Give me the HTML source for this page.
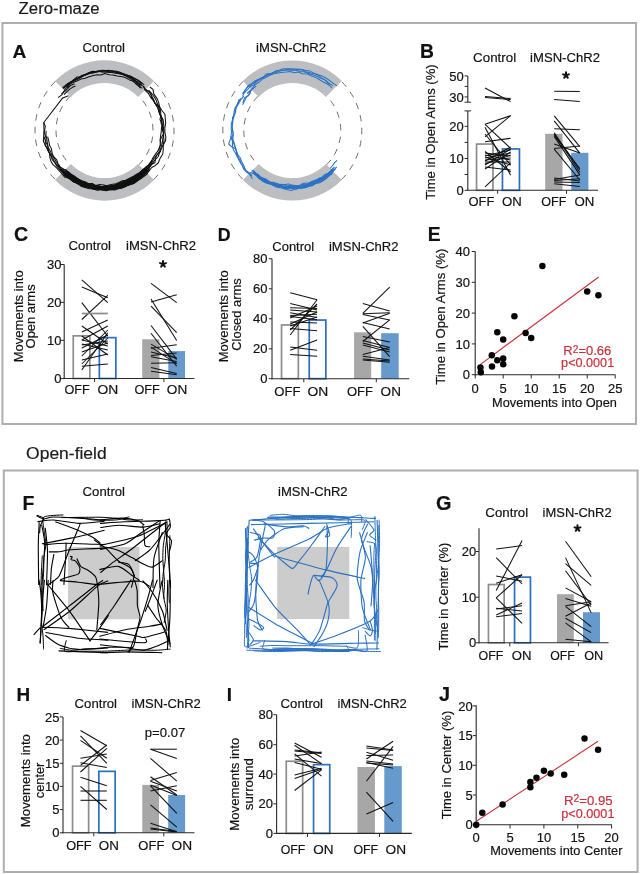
<!DOCTYPE html>
<html><head><meta charset="utf-8"><title>Zero-maze and Open-field figure</title>
<style>
html,body{margin:0;padding:0;background:#fff;}
body{width:640px;height:874px;overflow:hidden;}
svg{display:block;will-change:transform;}
text{font-family:"Liberation Sans", sans-serif;stroke:currentColor;stroke-width:0.18px;}
</style></head>
<body>
<svg width="640" height="874" viewBox="0 0 640 874">
<rect x="0" y="0" width="640" height="874" fill="#fff"/>
<rect x="2.40" y="23.00" width="633.60" height="401.00" fill="none" stroke="#adaeb0" stroke-width="2"/>
<rect x="3.80" y="470.50" width="633.80" height="401.50" fill="none" stroke="#adaeb0" stroke-width="2"/>
<text id="t_zm" x="18.63" y="14.19" font-size="15.58" fill="#1a1a1a" color="#1a1a1a" textLength="81.02" lengthAdjust="spacingAndGlyphs">Zero-maze</text>
<text id="t_of" x="26.09" y="459.27" font-size="16.90" fill="#1a1a1a" color="#1a1a1a" textLength="80.62" lengthAdjust="spacingAndGlyphs">Open-field</text>
<text id="LA" x="12.47" y="58.05" font-size="19.21" font-weight="bold" fill="#111" color="#111">A</text>
<text id="LB" x="420.04" y="57.55" font-size="19.30" font-weight="bold" fill="#111" color="#111">B</text>
<text id="LC" x="13.88" y="240.93" font-size="19.69" font-weight="bold" fill="#111" color="#111">C</text>
<text id="LD" x="217.71" y="241.00" font-size="17.77" font-weight="bold" fill="#111" color="#111">D</text>
<text id="LE" x="427.71" y="240.55" font-size="19.29" font-weight="bold" fill="#111" color="#111">E</text>
<text id="LF" x="22.49" y="509.70" font-size="19.44" font-weight="bold" fill="#111" color="#111">F</text>
<text id="LG" x="436.01" y="510.46" font-size="19.89" font-weight="bold" fill="#111" color="#111">G</text>
<text id="LH" x="16.58" y="701.25" font-size="18.93" font-weight="bold" fill="#111" color="#111">H</text>
<text id="LI" x="226.83" y="701.25" font-size="18.92" font-weight="bold" fill="#111" color="#111">I</text>
<text id="LJ" x="439.09" y="700.54" font-size="19.87" font-weight="bold" fill="#111" color="#111">J</text>
<path d="M154.00,81.00 A70,70 0 0 0 55.00,81.00 L70.91,96.91 A47.5,47.5 0 0 1 138.09,96.91 Z" fill="#bdbec1"/>
<path d="M55.00,180.00 A70,70 0 0 0 154.00,180.00 L138.09,164.09 A47.5,47.5 0 0 1 70.91,164.09 Z" fill="#bdbec1"/>
<path d="M55.36,81.36 A69.5,69.5 0 0 0 55.36,179.64" fill="none" stroke="#6d6e70" stroke-width="1" stroke-dasharray="6.5 6.2"/>
<path d="M153.64,179.64 A69.5,69.5 0 0 0 153.64,81.36" fill="none" stroke="#6d6e70" stroke-width="1" stroke-dasharray="6.5 6.2"/>
<path d="M70.21,96.21 A48.5,48.5 0 0 0 70.21,164.79" fill="none" stroke="#6d6e70" stroke-width="1" stroke-dasharray="6.5 6.2"/>
<path d="M138.79,164.79 A48.5,48.5 0 0 0 138.79,96.21" fill="none" stroke="#6d6e70" stroke-width="1" stroke-dasharray="6.5 6.2"/>
<path d="M140.7,84.7 L137.0,82.6 L134.4,79.7 L130.8,78.0 L125.6,75.3 L122.0,74.2 L118.7,72.7 L114.0,71.6 L109.8,72.0 L105.7,71.0 L101.4,71.1 L97.4,71.8 L92.9,71.3 L88.9,72.8 L84.9,74.4 L81.3,76.7 L77.0,76.9 L73.1,80.4 L70.1,82.2 L66.2,84.6 L63.5,88.7" fill="none" stroke="#111" stroke-width="1.05" stroke-linejoin="round"/>
<path d="M66.6,87.7 L69.0,84.8 L73.0,82.6 L77.0,81.0 L81.0,79.0 L85.3,78.2 L88.3,77.1 L92.5,75.7 L97.1,74.7 L101.2,75.0 L104.6,73.5 L109.4,74.7 L112.7,75.1 L117.3,76.1 L121.0,76.6 L124.7,77.3 L129.4,79.9 L132.8,80.9 L135.9,83.7 L138.7,86.1 L142.5,88.4" fill="none" stroke="#111" stroke-width="1.05" stroke-linejoin="round"/>
<path d="M142.2,85.4 L138.5,82.0 L134.9,80.5 L132.3,77.5 L128.1,77.0 L123.7,74.6 L119.8,72.7 L115.8,72.9 L112.6,71.0 L108.4,70.2 L103.2,70.9 L98.6,70.7 L94.7,72.0 L91.1,71.8 L87.4,74.2 L83.1,75.7 L80.2,77.9 L76.6,79.8 L72.7,81.9 L69.1,83.0 L65.4,86.0 L63.0,88.4" fill="none" stroke="#111" stroke-width="1.05" stroke-linejoin="round"/>
<path d="M62.6,87.8 L66.5,85.0 L70.2,83.2 L73.7,79.5 L77.5,78.7 L80.9,76.3 L84.9,74.9 L89.3,73.5 L92.6,72.6 L97.3,71.5 L101.2,71.3 L105.2,70.7 L109.9,72.4 L114.3,71.6 L117.7,72.8 L122.6,73.4 L126.2,75.1 L130.4,76.1 L133.3,78.0 L137.9,79.9 L141.2,82.4 L144.2,84.8" fill="none" stroke="#111" stroke-width="1.05" stroke-linejoin="round"/>
<path d="M142.3,83.6 L138.3,80.6 L135.0,78.7 L131.6,76.8 L127.0,75.1 L123.0,73.6 L118.6,71.8 L115.2,71.0 L110.1,70.9 L106.1,70.5 L102.1,70.3 L97.5,71.9 L93.4,72.3 L89.1,72.6 L85.2,75.0 L81.8,76.7 L77.7,78.1 L73.8,80.4 L70.0,82.7 L67.2,85.3" fill="none" stroke="#111" stroke-width="1.05" stroke-linejoin="round"/>
<path d="M64.1,87.5 L68.0,85.0 L70.5,82.4 L74.5,80.1 L78.3,78.1 L82.2,75.3 L85.6,74.8 L89.4,73.5 L93.6,73.1 L97.7,71.0 L101.5,72.0 L105.7,72.3 L110.3,72.1 L114.1,73.1 L117.9,73.5 L122.5,74.5 L126.0,75.9 L129.6,78.3 L133.3,80.3 L136.2,82.0 L140.3,84.9 L144.2,86.8" fill="none" stroke="#111" stroke-width="1.05" stroke-linejoin="round"/>
<path d="M140.8,88.0 L138.8,84.0 L135.8,83.4 L132.3,80.7" fill="none" stroke="#111" stroke-width="1.05" stroke-linejoin="round"/>
<path d="M135.8,84.2 L137.5,84.9 L139.6,86.9 L140.3,88.3" fill="none" stroke="#111" stroke-width="1.05" stroke-linejoin="round"/>
<path d="M69.6,85.7 L65.5,88.4 L63.9,91.2 L62.0,94.7 L58.1,97.7" fill="none" stroke="#111" stroke-width="1.05" stroke-linejoin="round"/>
<path d="M61.4,94.0 L65.3,90.8 L67.8,88.3 L70.6,85.4 L74.6,83.7" fill="none" stroke="#111" stroke-width="1.05" stroke-linejoin="round"/>
<path d="M75.5,85.9 L72.4,87.3 L69.8,89.2 L67.0,91.7 L64.1,94.5" fill="none" stroke="#111" stroke-width="1.05" stroke-linejoin="round"/>
<path d="M143.4,86.0 L145.4,90.7 L148.3,93.3 L150.7,97.6 L153.2,100.5 L155.5,104.1 L157.9,108.1 L158.9,111.8 L160.8,115.4 L160.0,119.7 L162.2,123.8 L161.5,128.1 L161.2,132.0 L160.5,136.3 L160.2,140.1 L160.2,145.2 L159.1,149.1 L156.6,152.6 L154.3,155.9 L152.5,158.6 L150.8,163.8 L147.6,166.0 L145.1,170.0" fill="none" stroke="#111" stroke-width="1.05" stroke-linejoin="round"/>
<path d="M144.8,171.6 L147.2,168.8 L150.2,165.7 L152.0,162.2 L153.7,158.9 L156.9,155.2 L159.2,151.7 L159.0,148.4 L161.1,143.6 L160.1,139.9 L162.6,135.6 L164.1,131.8 L163.1,126.9 L161.0,123.2 L161.5,120.1 L161.1,115.8 L159.1,112.4 L157.9,107.7 L156.0,104.9 L154.0,100.8 L151.5,97.5 L150.9,93.6 L147.3,90.8 L144.1,88.6" fill="none" stroke="#111" stroke-width="1.05" stroke-linejoin="round"/>
<path d="M148.5,90.2 L151.4,93.1 L153.6,96.0 L156.0,99.8 L157.4,103.9 L159.9,107.9 L160.7,111.8 L160.8,116.5 L163.0,119.5 L162.8,123.6 L162.3,128.8 L163.6,132.4 L163.5,136.0 L164.0,140.5 L163.4,144.4 L161.3,148.7 L159.5,152.5 L158.3,156.5 L155.0,159.8 L152.7,163.3 L149.2,165.6 L149.1,170.1 L144.3,172.3 L141.5,174.7" fill="none" stroke="#111" stroke-width="1.05" stroke-linejoin="round"/>
<path d="M145.2,171.3 L147.5,168.4 L151.4,164.6 L154.9,162.7 L155.6,158.7 L156.4,155.4 L160.5,151.6 L160.8,147.9 L162.3,143.4 L162.7,139.1 L163.7,134.9 L162.6,130.2 L163.9,127.2 L163.5,122.2 L162.0,117.8 L159.7,114.6 L159.5,110.5 L158.3,105.7 L154.9,103.3 L153.4,98.9 L151.4,95.5 L148.8,91.3 L145.8,89.7 L143.2,86.3" fill="none" stroke="#111" stroke-width="1.05" stroke-linejoin="round"/>
<path d="M149.8,87.0 L153.0,89.4 L153.8,93.9 L157.4,99.1 L158.5,102.1 L159.8,107.4 L162.0,110.5 L165.0,114.5 L165.2,118.3 L165.7,123.1 L164.9,127.5 L164.8,131.8 L165.8,136.9 L165.5,140.8 L163.3,145.0 L163.2,150.2 L162.8,153.9 L160.0,158.6 L158.2,163.0 L155.0,165.7 L151.7,167.5 L148.2,172.1 L146.1,174.8" fill="none" stroke="#111" stroke-width="1.05" stroke-linejoin="round"/>
<path d="M148.0,171.2 L144.3,174.3 L141.2,176.9 L138.1,180.0 L135.2,182.4 L130.9,184.6 L126.2,185.5 L122.1,187.7 L118.7,188.3 L114.5,188.5 L110.7,188.5 L106.3,190.5 L101.3,189.4 L97.4,190.2 L93.9,189.2 L89.8,187.8 L85.0,187.4 L81.7,185.4 L77.8,184.1 L74.8,182.1 L71.0,179.3 L67.6,176.2 L64.4,173.7 L61.0,170.4" fill="none" stroke="#111" stroke-width="1.05" stroke-linejoin="round"/>
<path d="M63.4,174.6 L65.9,176.7 L70.7,179.6 L72.8,181.5 L77.7,183.1 L81.4,185.9 L85.4,186.1 L89.3,187.6 L93.5,188.3 L97.4,189.4 L102.0,189.8 L105.9,190.7 L109.8,190.1 L114.2,189.6 L118.4,187.7 L121.4,188.0 L126.0,186.1 L129.8,184.4 L134.1,183.4 L137.4,180.8 L141.1,178.2 L144.4,176.1 L147.9,173.3" fill="none" stroke="#111" stroke-width="1.05" stroke-linejoin="round"/>
<path d="M147.4,167.9 L145.5,171.7 L142.8,174.3 L139.2,177.4 L136.8,179.5 L132.3,180.9 L128.0,183.5 L124.4,184.5 L121.1,186.6 L117.4,188.0 L112.3,188.6 L108.7,188.6 L104.1,189.7 L100.0,189.1 L96.1,189.2 L92.0,186.4 L87.9,186.7 L83.9,185.5 L79.9,184.0 L76.1,182.9 L72.6,180.3 L68.3,177.4 L65.5,175.0 L62.7,171.7 L59.6,169.2" fill="none" stroke="#111" stroke-width="1.05" stroke-linejoin="round"/>
<path d="M65.4,173.3 L69.0,175.0 L72.5,177.8 L75.6,180.3 L79.2,182.3 L82.4,184.6 L87.2,185.7 L91.0,186.6 L94.3,187.1 L98.6,187.3 L102.8,187.9 L106.9,187.3 L110.6,187.5 L114.3,186.5 L119.7,187.1 L123.3,185.6 L127.2,184.0 L131.1,181.7 L134.1,181.3 L137.9,178.4 L140.2,176.1 L143.2,173.2" fill="none" stroke="#111" stroke-width="1.05" stroke-linejoin="round"/>
<path d="M148.9,169.4 L146.0,172.5 L142.2,175.2 L139.6,179.1 L135.6,180.2 L132.9,183.2 L128.6,185.1 L124.7,185.2 L120.7,187.2 L116.0,188.2 L111.8,188.5 L106.8,188.2 L102.7,188.4 L99.4,188.0 L94.6,187.0 L90.8,186.5 L87.1,184.9 L82.9,183.9 L78.9,182.3 L75.5,179.7 L72.1,177.5 L68.2,175.3 L64.8,173.3" fill="none" stroke="#111" stroke-width="1.05" stroke-linejoin="round"/>
<path d="M63.9,173.1 L67.1,175.3 L70.2,179.4 L74.1,180.5 L78.7,181.6 L81.8,183.5 L86.4,184.5 L89.8,186.4 L94.0,186.6 L97.4,187.8 L102.4,188.6 L105.3,188.0 L110.0,187.4 L114.7,188.3 L118.0,187.3 L122.2,185.9 L126.3,185.1 L130.3,182.8 L134.0,181.9 L137.8,179.2 L141.0,177.3 L145.1,174.0 L146.9,171.9" fill="none" stroke="#111" stroke-width="1.05" stroke-linejoin="round"/>
<path d="M144.9,168.4 L142.4,171.4 L139.4,174.1 L136.8,176.5 L132.0,179.0 L128.8,180.4 L125.5,182.5 L121.7,183.6 L117.6,184.3 L114.4,185.4 L109.9,186.1 L105.1,185.7 L102.2,186.7 L98.6,185.9 L94.1,186.5 L90.8,185.3 L86.5,183.4 L82.7,182.9 L79.4,181.1 L75.8,179.0 L72.8,175.8 L69.1,174.7 L66.3,170.0 L63.1,169.2" fill="none" stroke="#111" stroke-width="1.05" stroke-linejoin="round"/>
<path d="M65.2,172.3 L68.8,174.9 L71.5,176.8 L76.1,179.7 L79.4,181.0 L82.7,184.0 L86.3,184.9 L89.0,186.8 L94.0,187.1 L97.8,187.3 L102.0,188.5 L106.0,188.5 L110.8,187.0 L115.1,187.4 L118.4,186.0 L122.7,185.8 L126.4,184.5 L129.1,183.2 L133.3,181.9 L137.3,178.2 L140.4,176.6 L142.9,173.7 L146.5,170.5" fill="none" stroke="#111" stroke-width="1.05" stroke-linejoin="round"/>
<path d="M141.9,171.0 L139.4,172.8 L136.1,174.4 L132.7,177.1 L129.2,178.6 L125.5,180.3 L122.3,180.8 L118.9,182.5 L115.9,183.8 L111.2,184.6 L106.5,185.8 L103.9,184.9 L99.5,184.5 L95.5,185.7 L92.4,183.5 L88.4,183.9 L85.6,181.9 L81.3,180.5 L77.7,178.6 L74.9,176.5 L72.3,174.9 L68.2,171.9 L65.5,169.6" fill="none" stroke="#111" stroke-width="1.05" stroke-linejoin="round"/>
<path d="M66.1,170.5 L69.2,173.9 L72.0,176.6 L75.4,178.3 L78.6,181.6 L82.1,182.7 L86.2,183.1 L90.0,184.4 L93.7,186.4 L98.1,187.2 L101.9,187.2 L105.2,186.8 L109.9,186.9 L113.9,185.7 L117.4,185.1 L120.9,184.4 L125.0,183.1 L128.7,180.4 L131.4,179.4 L135.3,177.7 L138.6,174.7 L141.7,171.9 L144.0,168.8 L146.3,166.7" fill="none" stroke="#111" stroke-width="1.05" stroke-linejoin="round"/>
<path d="M144.3,170.5 L140.8,173.4 L138.0,175.1 L133.7,177.2 L130.3,179.5 L127.6,182.0 L123.8,182.3 L119.3,183.6 L116.1,185.0 L112.1,186.6 L108.7,187.2 L105.1,186.8 L100.2,186.2 L96.1,185.2 L91.8,185.2 L88.4,183.9 L83.9,183.6 L81.0,180.8 L78.1,179.7 L73.2,177.3 L70.1,175.7 L67.0,173.3 L64.3,170.9" fill="none" stroke="#111" stroke-width="1.05" stroke-linejoin="round"/>
<path d="M68.0,172.1 L71.0,175.2 L73.5,177.2 L77.1,179.1 L81.0,181.3 L84.9,183.6 L89.6,184.4 L92.6,184.8 L96.4,186.2 L100.3,186.8 L104.6,186.4 L108.6,186.3 L112.2,185.5 L116.0,185.4 L119.7,183.7 L123.9,183.1 L127.1,180.5 L130.9,179.7 L134.3,176.7 L138.1,175.8 L141.0,173.7 L143.5,170.8" fill="none" stroke="#111" stroke-width="1.05" stroke-linejoin="round"/>
<path d="M147.4,170.6 L144.3,173.2 L141.1,175.8 L137.6,178.8 L134.1,181.5 L129.7,182.0 L127.3,184.1 L122.4,185.6 L119.1,187.8 L115.3,187.8 L109.9,188.5 L105.7,188.5 L101.9,188.8 L98.0,189.0 L93.9,187.8 L90.0,186.3 L86.0,185.6 L81.0,184.7 L77.7,181.6 L73.8,180.4 L70.4,178.6 L66.7,175.9 L62.9,173.4" fill="none" stroke="#111" stroke-width="1.05" stroke-linejoin="round"/>
<path d="M63.9,173.1 L66.5,177.5 L70.1,178.2 L73.7,182.1 L77.9,183.3 L81.0,186.2 L85.2,187.6 L89.4,188.8 L94.0,189.0 L98.1,189.8 L102.3,189.3 L105.8,189.6 L110.4,189.4 L114.9,189.9 L119.2,188.6 L122.5,187.8 L126.7,185.9 L130.3,183.8 L134.2,182.7 L138.0,180.0 L141.9,177.7 L145.1,174.8" fill="none" stroke="#111" stroke-width="1.05" stroke-linejoin="round"/>
<path d="M143.2,171.1 L140.6,173.4 L138.4,175.9 L134.8,178.7 L131.4,181.3 L128.4,183.0 L124.0,184.2 L120.7,186.2 L116.2,186.9 L112.3,187.5 L108.3,187.6 L104.8,188.0 L100.2,187.3 L95.4,188.0 L92.3,187.5 L88.3,186.9 L85.3,184.5 L81.1,182.3 L76.6,181.2 L74.0,179.7 L70.2,177.6 L66.9,174.0" fill="none" stroke="#111" stroke-width="1.05" stroke-linejoin="round"/>
<path d="M65.3,171.8 L67.9,173.0 L71.6,177.1 L74.8,179.2 L78.1,180.6 L81.9,183.7 L85.4,185.6 L89.0,187.4 L93.6,186.7 L98.1,187.5 L101.7,188.6 L106.1,187.6 L110.2,187.9 L114.3,187.2 L118.2,184.7 L122.6,184.0 L126.2,183.0 L128.9,181.4 L133.4,179.5 L136.3,177.7 L140.3,175.5 L143.4,172.2 L146.0,169.3" fill="none" stroke="#111" stroke-width="1.05" stroke-linejoin="round"/>
<path d="M145.7,171.6 L143.3,174.4 L139.3,176.9 L136.2,178.9 L131.9,180.9 L128.7,184.5 L124.3,185.3 L120.6,186.1 L116.5,187.3 L112.2,187.9 L108.0,187.7 L103.5,188.0 L99.4,188.1 L95.0,187.3 L91.3,186.3 L86.9,184.9 L82.9,184.3 L79.2,182.2 L75.7,180.4 L71.6,178.6 L67.9,175.6 L65.9,173.2" fill="none" stroke="#111" stroke-width="1.05" stroke-linejoin="round"/>
<path d="M67.5,172.7 L70.8,175.1 L73.6,177.3 L78.1,178.7 L80.8,181.3 L84.5,182.5 L88.2,183.4 L92.4,183.9 L96.0,186.1 L98.6,186.4 L103.2,186.6 L107.2,186.6 L111.8,187.2 L115.8,187.0 L119.6,185.9 L123.9,184.6 L127.0,182.4 L131.1,181.1 L134.0,180.1 L138.4,177.2 L140.8,174.3 L144.1,172.0" fill="none" stroke="#111" stroke-width="1.05" stroke-linejoin="round"/>
<path d="M147.4,170.7 L144.7,173.5 L141.5,176.4 L138.0,178.1 L134.9,180.7 L130.1,181.8 L127.3,184.4 L123.7,186.1 L119.9,186.3 L115.7,188.0 L111.2,188.4 L108.2,188.3 L103.4,189.1 L98.7,188.7 L94.8,188.1 L91.2,187.6 L87.6,186.4 L83.0,185.0 L80.0,184.3 L76.0,182.2 L72.7,180.1 L69.1,177.9 L66.6,174.2 L62.9,171.1 L59.8,168.9" fill="none" stroke="#111" stroke-width="1.05" stroke-linejoin="round"/>
<path d="M68.4,171.5 L70.5,174.1 L74.6,176.5 L77.6,179.8 L81.0,181.7 L84.5,182.6 L88.3,183.9 L92.1,185.3 L96.1,185.4 L99.8,187.5 L104.4,186.3 L108.3,186.9 L112.2,185.5 L116.3,184.5 L120.1,182.6 L123.4,181.6 L127.5,180.4 L131.2,178.9 L134.2,177.5 L138.4,173.7 L141.8,173.1 L144.2,169.3" fill="none" stroke="#111" stroke-width="1.05" stroke-linejoin="round"/>
<path d="M147.4,165.6 L144.9,168.5 L142.8,172.3 L139.6,173.9 L135.2,175.8 L132.0,177.0 L128.5,179.2 L125.2,181.1 L121.5,183.1 L118.2,184.7 L113.8,185.4 L110.1,186.2 L106.2,187.4 L103.1,187.4 L98.0,187.5 L94.4,186.3 L90.4,186.9 L85.7,184.9 L81.9,182.8 L78.0,182.6 L73.9,180.4 L71.6,177.8 L68.2,175.9" fill="none" stroke="#111" stroke-width="1.05" stroke-linejoin="round"/>
<path d="M67.0,173.2 L69.1,175.7 L72.8,178.9 L76.6,180.4 L80.5,182.0 L83.4,184.0 L87.5,184.9 L91.9,186.9 L95.5,186.9 L99.5,187.0 L103.5,187.8 L107.4,187.0 L112.2,187.5 L116.2,186.8 L120.5,186.4 L125.1,185.4 L128.8,183.9 L131.7,180.9 L134.6,177.7 L138.0,176.1 L141.3,173.1 L144.3,170.6 L146.0,167.6" fill="none" stroke="#111" stroke-width="1.05" stroke-linejoin="round"/>
<path d="M145.9,169.7 L143.1,173.5 L139.7,175.5 L136.8,178.4 L132.7,181.0 L129.1,182.0 L125.1,182.4 L121.9,185.5 L118.5,185.4 L114.2,186.6 L110.4,187.7 L106.1,187.7 L101.8,188.0 L97.5,186.5 L93.4,186.6 L89.6,186.8 L85.2,186.2 L82.3,184.0 L78.3,181.3 L74.8,179.8 L71.7,176.8 L68.0,174.8 L65.5,171.7" fill="none" stroke="#111" stroke-width="1.05" stroke-linejoin="round"/>
<path d="M61.2,170.3 L63.9,173.6 L67.8,176.0 L71.0,178.5 L74.5,180.7 L77.3,182.6 L81.4,184.8 L85.7,186.5 L89.6,186.9 L93.2,188.8 L97.2,189.1 L101.6,189.8 L106.1,189.9 L109.8,188.4 L113.4,189.0 L118.2,187.9 L122.3,187.1 L126.0,186.4 L129.7,183.0 L133.2,181.5 L136.9,179.3 L140.8,176.6 L144.0,174.0" fill="none" stroke="#111" stroke-width="1.05" stroke-linejoin="round"/>
<path d="M146.7,169.2 L144.6,172.9 L141.0,175.0 L137.7,177.6 L134.1,179.2 L129.7,181.7 L126.9,183.0 L123.4,184.2 L119.4,185.4 L115.0,186.5 L111.9,186.9 L107.8,187.1 L102.8,188.4 L99.6,187.9 L95.6,186.9 L91.4,185.0 L87.0,184.6 L83.7,183.5 L80.7,181.5 L77.2,180.6 L73.6,177.2 L69.9,176.0 L67.3,173.7" fill="none" stroke="#111" stroke-width="1.05" stroke-linejoin="round"/>
<path d="M62.8,171.0 L65.3,174.3 L68.9,176.7 L72.8,178.7 L76.3,181.5 L80.4,183.4 L84.8,184.6 L88.8,186.6 L91.7,187.7 L96.0,187.3 L99.9,188.5 L104.3,189.4 L108.6,188.4 L112.5,188.6 L117.1,187.5 L120.3,186.3 L124.2,184.9 L129.4,184.3 L131.8,182.0 L136.0,179.5 L140.1,176.9 L143.0,174.3 L144.9,171.3" fill="none" stroke="#111" stroke-width="1.05" stroke-linejoin="round"/>
<path d="M66.6,175.8 L62.9,172.8 L60.5,170.4 L57.2,166.6 L54.9,163.0 L52.1,159.4 L50.8,155.0 L48.6,151.2 L47.9,146.5 L45.9,142.1 L45.9,138.8" fill="none" stroke="#111" stroke-width="1.05" stroke-linejoin="round"/>
<path d="M44.2,136.6 L45.4,141.0 L45.1,145.3 L47.4,148.2 L49.4,153.0 L49.8,156.8 L50.9,161.3 L53.0,164.6 L56.6,167.9 L59.6,171.1 L62.4,174.3 L65.4,178.0" fill="none" stroke="#111" stroke-width="1.05" stroke-linejoin="round"/>
<path d="M68.8,177.5 L66.2,175.0 L64.0,170.9 L61.1,168.7 L58.1,164.9 L56.7,162.5 L54.4,158.6 L51.8,154.9 L50.5,151.6 L48.1,147.2 L47.3,142.6 L46.8,138.8 L45.9,134.9 L46.1,130.8" fill="none" stroke="#111" stroke-width="1.05" stroke-linejoin="round"/>
<path d="M47.6,136.7 L48.6,140.2 L49.6,145.6 L51.3,148.4 L52.3,153.7 L53.5,156.3 L56.8,159.9 L57.8,163.2 L60.2,166.9 L64.5,169.8 L66.5,173.0 L68.8,176.4 L72.3,177.8" fill="none" stroke="#111" stroke-width="1.05" stroke-linejoin="round"/>
<path d="M128.2,181.3 L131.4,178.7 L135.0,176.2 L138.9,174.3 L141.9,170.3 L144.8,168.1 L148.2,165.6" fill="none" stroke="#111" stroke-width="1.05" stroke-linejoin="round"/>
<path d="M150.7,161.8 L147.8,166.0 L145.3,168.5 L141.3,171.2 L138.8,174.1 L134.6,176.0" fill="none" stroke="#111" stroke-width="1.05" stroke-linejoin="round"/>
<path d="M130.2,179.0 L134.3,177.1 L137.6,175.0 L141.8,171.9 L143.5,169.4 L147.7,166.8 L149.7,163.7 L151.8,159.9" fill="none" stroke="#111" stroke-width="1.05" stroke-linejoin="round"/>
<path d="M152.0,162.5 L151.2,165.3 L148.0,169.4 L144.9,172.3 L142.1,175.6 L139.1,177.6 L135.8,180.1" fill="none" stroke="#111" stroke-width="1.05" stroke-linejoin="round"/>
<path d="M68.5,95.8 L62.7,97.9 L43.8,122.5 L44.0,130.5 L43.4,141.3 L48.1,151.0 L56.2,164.3 L64.2,172.2" fill="none" stroke="#111" stroke-width="1.05" stroke-linejoin="round"/>
<path d="M43.8,122.5 L45.3,126.4 L44.2,132.6 L46.3,138.7" fill="none" stroke="#111" stroke-width="1.05" stroke-linejoin="round"/>
<path d="M341.80,81.00 A70,70 0 0 0 242.80,81.00 L258.71,96.91 A47.5,47.5 0 0 1 325.89,96.91 Z" fill="#bdbec1"/>
<path d="M242.80,180.00 A70,70 0 0 0 341.80,180.00 L325.89,164.09 A47.5,47.5 0 0 1 258.71,164.09 Z" fill="#bdbec1"/>
<path d="M243.16,81.36 A69.5,69.5 0 0 0 243.16,179.64" fill="none" stroke="#6d6e70" stroke-width="1" stroke-dasharray="6.5 6.2"/>
<path d="M341.44,179.64 A69.5,69.5 0 0 0 341.44,81.36" fill="none" stroke="#6d6e70" stroke-width="1" stroke-dasharray="6.5 6.2"/>
<path d="M258.01,96.21 A48.5,48.5 0 0 0 258.01,164.79" fill="none" stroke="#6d6e70" stroke-width="1" stroke-dasharray="6.5 6.2"/>
<path d="M326.59,164.79 A48.5,48.5 0 0 0 326.59,96.21" fill="none" stroke="#6d6e70" stroke-width="1" stroke-dasharray="6.5 6.2"/>
<path d="M337.2,85.9 L333.3,83.4 L329.5,80.5 L326.0,77.9 L321.9,76.1 L317.5,74.4 L313.4,73.0 L310.1,71.1 L305.1,70.3 L302.5,69.5 L296.8,69.0 L292.3,68.7 L288.6,68.8 L283.1,68.8 L279.8,70.2 L275.9,71.2 L271.1,73.5 L266.1,74.1 L263.7,77.1 L259.3,79.1 L255.4,80.7 L251.4,83.6 L248.0,85.7 L245.8,89.5 L242.9,93.6" fill="none" stroke="#2a72c5" stroke-width="1.05" stroke-linejoin="round"/>
<path d="M247.1,93.5 L249.7,91.0 L252.9,88.0 L254.8,84.7 L259.0,82.2 L262.4,79.1 L265.8,77.6 L268.8,75.9 L273.4,73.7 L277.6,73.1 L281.3,72.4 L285.9,72.0 L290.3,71.5 L294.3,72.8 L298.7,72.0 L302.2,73.7 L307.5,74.0 L311.1,75.7 L314.6,76.9 L318.8,79.2 L322.0,81.2 L326.0,83.3 L329.3,85.2 L332.1,88.1" fill="none" stroke="#2a72c5" stroke-width="1.05" stroke-linejoin="round"/>
<path d="M329.8,84.0 L326.9,82.0 L324.6,79.6 L320.3,78.1 L316.1,75.9 L312.1,74.6 L308.0,73.3 L303.9,71.7 L300.1,71.4 L294.8,70.1 L291.9,69.9 L287.2,70.0 L282.7,70.5 L278.9,71.2 L274.9,73.2 L270.4,74.2 L266.1,75.9 L262.8,77.1 L258.9,79.4 L254.4,82.3 L251.9,84.2 L247.4,87.3 L245.0,90.2 L242.6,93.9" fill="none" stroke="#2a72c5" stroke-width="1.05" stroke-linejoin="round"/>
<path d="M242.5,96.3 L244.4,92.8 L247.6,89.7 L250.0,86.8 L254.0,84.6 L256.3,81.7 L260.3,79.1 L264.8,76.6 L268.2,74.2 L273.1,73.0 L275.7,70.9 L279.3,70.2 L285.0,70.1 L289.4,69.4 L293.3,70.5 L297.2,69.5 L301.9,70.1 L305.9,71.7 L310.9,73.1 L315.0,73.8 L318.7,75.7 L321.9,78.4 L325.9,80.4 L329.1,83.6 L333.1,85.5" fill="none" stroke="#2a72c5" stroke-width="1.05" stroke-linejoin="round"/>
<path d="M256.2,85.8 L252.9,88.7 L250.0,91.3 L248.5,95.2 L244.3,98.2 L243.0,103.2" fill="none" stroke="#2a72c5" stroke-width="1.05" stroke-linejoin="round"/>
<path d="M242.6,104.8 L244.1,101.7 L246.5,97.1 L249.7,94.4 L251.0,90.3" fill="none" stroke="#2a72c5" stroke-width="1.05" stroke-linejoin="round"/>
<path d="M243.8,96.1 L240.5,100.2 L238.3,104.3 L236.0,108.1 L235.6,111.6 L234.2,115.9 L232.9,119.9 L232.0,124.6 L232.2,128.6 L233.1,133.6 L232.1,137.2 L233.2,141.9 L234.4,145.7 L236.0,149.9 L237.4,154.0 L240.1,157.7 L241.8,161.7 L243.8,165.8 L245.8,170.5 L249.3,172.8 L251.8,175.8" fill="none" stroke="#2a72c5" stroke-width="1.05" stroke-linejoin="round"/>
<path d="M252.0,175.6 L248.5,173.6 L245.9,170.7 L243.4,167.2 L241.1,163.5 L239.8,159.6 L237.0,156.3 L236.1,150.5 L235.6,147.9 L233.9,142.2 L232.8,139.1 L233.3,135.2 L232.6,130.0 L232.0,127.6 L232.8,122.2 L232.5,117.6 L234.7,113.9 L235.4,109.6 L236.5,106.0 L238.6,102.0 L240.6,98.2" fill="none" stroke="#2a72c5" stroke-width="1.05" stroke-linejoin="round"/>
<path d="M238.9,99.3 L237.5,104.3 L235.1,107.7 L234.2,111.4 L233.7,115.6 L232.5,119.8 L231.3,123.6 L231.2,129.2 L231.6,131.5 L230.9,137.0 L232.4,141.1 L232.5,146.5 L233.2,149.5 L235.8,153.7 L237.9,157.6 L239.5,161.5 L242.2,165.3 L243.7,169.2 L246.4,171.9 L250.0,174.7 L252.5,178.8" fill="none" stroke="#2a72c5" stroke-width="1.05" stroke-linejoin="round"/>
<path d="M252.7,170.1 L255.7,172.8 L258.4,175.0 L261.1,177.8 L266.0,179.1 L269.3,182.0 L272.8,182.2 L277.0,183.5 L280.7,185.0 L284.7,184.4 L288.7,183.9 L291.9,185.8 L296.6,186.3 L300.1,185.3 L304.1,184.2 L308.5,184.1 L311.6,181.6 L315.8,180.8 L319.1,178.1 L323.3,178.2 L326.1,174.7 L329.0,172.7" fill="none" stroke="#2a72c5" stroke-width="1.05" stroke-linejoin="round"/>
<path d="M332.6,173.1 L329.6,175.5 L326.5,178.2 L322.9,180.7 L319.5,182.7 L315.6,183.4 L311.8,185.0 L308.1,186.5 L304.5,187.9 L300.2,188.1 L295.7,189.3 L292.2,188.4 L287.9,188.3 L284.4,187.9 L279.8,187.7 L275.4,186.7 L272.1,184.4 L267.8,183.2 L264.5,182.1 L260.1,179.1 L257.5,176.3 L255.1,173.9 L250.1,172.6" fill="none" stroke="#2a72c5" stroke-width="1.05" stroke-linejoin="round"/>
<path d="M255.7,174.5 L259.5,178.1 L262.8,180.6 L266.7,182.3 L270.5,183.1 L273.3,185.1 L278.4,187.3 L282.2,186.9 L286.4,187.1 L290.7,187.3 L294.1,186.9 L298.7,187.0 L303.3,186.7 L306.3,185.2 L311.2,184.0 L314.8,183.1 L319.0,180.6 L321.8,178.8 L325.7,177.2 L329.0,175.3 L331.9,172.0 L335.6,168.9" fill="none" stroke="#2a72c5" stroke-width="1.05" stroke-linejoin="round"/>
<path d="M336.7,166.9 L333.4,170.6 L329.7,173.1 L326.9,175.9 L324.6,178.1 L319.9,180.4 L316.5,182.2 L312.8,184.9 L308.8,185.7 L305.1,186.6 L300.5,187.7 L296.5,187.9 L291.7,187.6 L288.6,188.2 L284.7,187.2 L280.2,185.7 L276.4,185.0 L272.9,183.4 L269.1,182.2 L264.5,180.5 L261.3,177.4 L258.4,175.3 L254.8,174.1 L251.9,170.0" fill="none" stroke="#2a72c5" stroke-width="1.05" stroke-linejoin="round"/>
<path d="M257.7,173.7 L259.9,177.1 L264.4,178.8 L267.0,180.3 L271.0,182.6 L275.5,183.4 L279.4,184.4 L282.6,184.2 L287.2,186.1 L291.3,185.0 L295.1,185.6 L299.3,186.1 L303.1,183.2 L307.6,183.3 L311.3,181.9 L314.3,180.4 L318.5,179.1 L322.3,177.0 L324.6,174.6 L329.1,173.3 L331.3,169.9 L334.6,167.0" fill="none" stroke="#2a72c5" stroke-width="1.05" stroke-linejoin="round"/>
<path d="M333.5,169.8 L331.3,174.1 L327.5,175.5 L324.3,178.0 L320.9,181.2 L317.1,181.4 L313.4,183.1 L309.8,185.4 L305.9,187.1 L301.4,186.5 L297.3,187.1 L293.7,187.3 L289.5,187.9 L284.7,188.5 L281.5,186.0 L277.1,185.7 L273.0,185.4 L269.9,183.0 L264.9,182.1 L261.6,180.0 L258.2,177.9 L256.1,173.9" fill="none" stroke="#2a72c5" stroke-width="1.05" stroke-linejoin="round"/>
<path d="M252.8,173.0 L257.3,176.1 L260.0,178.8 L262.8,181.2 L266.9,183.3 L271.0,184.3 L274.4,185.6 L279.6,186.4 L283.0,188.6 L286.2,189.6 L291.3,190.4 L296.3,188.4 L300.4,188.3 L303.7,187.5 L307.7,186.7 L313.0,185.4 L315.9,183.0 L320.3,182.0 L323.2,180.4 L327.4,177.3 L329.4,173.9 L333.5,171.0" fill="none" stroke="#2a72c5" stroke-width="1.05" stroke-linejoin="round"/>
<path d="M331.7,170.7 L328.5,173.0 L325.7,175.6 L322.0,178.0 L319.0,180.2 L315.1,182.0 L310.9,183.6 L307.2,185.6 L303.4,185.8 L298.8,186.9 L294.8,187.2 L291.1,186.8 L286.7,187.3 L282.7,185.9 L278.5,186.3 L275.4,185.7 L271.1,183.3 L267.1,182.3 L263.0,179.6 L259.7,177.7 L256.2,175.4 L253.4,173.1" fill="none" stroke="#2a72c5" stroke-width="1.05" stroke-linejoin="round"/>
<path d="M254.3,173.6 L258.3,176.4 L261.6,178.2 L265.0,179.7 L269.0,181.5 L273.4,183.9 L276.8,184.4 L280.1,185.3 L284.8,186.9 L289.2,186.6 L292.7,188.4 L297.0,186.5 L300.8,186.4 L304.8,185.0 L308.7,184.0 L312.1,182.0 L316.6,181.5 L319.9,178.0 L323.3,177.4 L327.1,175.0 L329.6,172.1 L333.1,169.4" fill="none" stroke="#2a72c5" stroke-width="1.05" stroke-linejoin="round"/>
<path d="M333.8,168.4 L331.7,171.6 L328.0,174.4 L325.0,176.5 L320.9,178.7 L318.4,180.8 L314.6,182.7 L310.4,183.1 L306.8,185.3 L302.5,187.0 L299.1,186.2 L293.9,186.3 L290.3,186.8 L285.4,187.3 L282.2,186.2 L277.8,185.9 L274.4,184.2 L269.5,182.6 L266.8,181.5 L262.6,178.2 L259.4,176.5 L256.4,174.5 L253.3,171.0" fill="none" stroke="#2a72c5" stroke-width="1.05" stroke-linejoin="round"/>
<path d="M330.1,168.4 L332.6,165.5 L334.6,162.6 L337.1,160.3" fill="none" stroke="#2a72c5" stroke-width="1.05" stroke-linejoin="round"/>
<path d="M231.5,135.8 L228.7,144.0 L232.7,147.6 L235.7,148.9 L238.4,156.8" fill="none" stroke="#2a72c5" stroke-width="1.05" stroke-linejoin="round"/>
<text id="hA1" x="82.54" y="52.00" font-size="12.80" fill="#111" color="#111" textLength="42.52" lengthAdjust="spacingAndGlyphs">Control</text>
<text id="hA2" x="256.14" y="52.00" font-size="12.80" fill="#111" color="#111" textLength="69.91" lengthAdjust="spacingAndGlyphs">iMSN-ChR2</text>
<line x1="467.80" y1="75.90" x2="467.80" y2="102.20" stroke="#2a2a2a" stroke-width="1.1"/>
<line x1="464.60" y1="75.90" x2="467.80" y2="75.90" stroke="#2a2a2a" stroke-width="1.0"/>
<text x="463.75" y="80.55" font-size="13.0" text-anchor="end" fill="#111" color="#111">50</text>
<line x1="464.60" y1="96.90" x2="467.80" y2="96.90" stroke="#2a2a2a" stroke-width="1.0"/>
<text x="463.75" y="101.55" font-size="13.0" text-anchor="end" fill="#111" color="#111">30</text>
<line x1="464.60" y1="86.40" x2="467.80" y2="86.40" stroke="#2a2a2a" stroke-width="1.0"/>
<line x1="464.50" y1="102.20" x2="471.10" y2="102.20" stroke="#2a2a2a" stroke-width="1.0"/>
<line x1="464.50" y1="110.90" x2="471.10" y2="110.90" stroke="#2a2a2a" stroke-width="1.0"/>
<line x1="464.60" y1="126.30" x2="467.80" y2="126.30" stroke="#2a2a2a" stroke-width="1.0"/>
<text x="463.75" y="130.95" font-size="13.0" text-anchor="end" fill="#111" color="#111">20</text>
<line x1="464.60" y1="158.50" x2="467.80" y2="158.50" stroke="#2a2a2a" stroke-width="1.0"/>
<text x="463.75" y="163.15" font-size="13.0" text-anchor="end" fill="#111" color="#111">10</text>
<line x1="464.60" y1="190.30" x2="467.80" y2="190.30" stroke="#2a2a2a" stroke-width="1.0"/>
<text x="463.75" y="194.95" font-size="13.0" text-anchor="end" fill="#111" color="#111">0</text>
<line x1="464.60" y1="142.40" x2="467.80" y2="142.40" stroke="#2a2a2a" stroke-width="1.0"/>
<line x1="464.60" y1="174.50" x2="467.80" y2="174.50" stroke="#2a2a2a" stroke-width="1.0"/>
<rect x="476.55" y="144.05" width="16.40" height="46.25" fill="#fff" stroke="#8d8d8d" stroke-width="1.7"/>
<rect x="502.45" y="148.95" width="17.00" height="41.35" fill="#fff" stroke="#2a6fc0" stroke-width="1.7"/>
<rect x="545.20" y="133.80" width="17.30" height="56.50" fill="#a7a7a7" stroke="none" stroke-width="0"/>
<rect x="571.20" y="152.80" width="17.20" height="37.50" fill="#6699cc" stroke="none" stroke-width="0"/>
<line x1="485.00" y1="88.00" x2="510.60" y2="101.60" stroke="#111" stroke-width="1.05"/>
<line x1="485.00" y1="96.50" x2="510.60" y2="98.60" stroke="#111" stroke-width="1.05"/>
<line x1="485.00" y1="97.40" x2="510.60" y2="99.60" stroke="#111" stroke-width="1.05"/>
<line x1="485.00" y1="124.30" x2="510.60" y2="115.70" stroke="#111" stroke-width="1.05"/>
<line x1="485.00" y1="124.30" x2="510.60" y2="148.40" stroke="#111" stroke-width="1.05"/>
<line x1="485.00" y1="127.20" x2="510.60" y2="175.30" stroke="#111" stroke-width="1.05"/>
<line x1="485.00" y1="134.00" x2="510.60" y2="165.00" stroke="#111" stroke-width="1.05"/>
<line x1="485.00" y1="136.80" x2="510.60" y2="115.70" stroke="#111" stroke-width="1.05"/>
<line x1="485.00" y1="141.70" x2="510.60" y2="138.30" stroke="#111" stroke-width="1.05"/>
<line x1="485.00" y1="151.50" x2="510.60" y2="172.00" stroke="#111" stroke-width="1.05"/>
<line x1="485.00" y1="153.00" x2="510.60" y2="156.00" stroke="#111" stroke-width="1.05"/>
<line x1="485.00" y1="155.00" x2="510.60" y2="160.00" stroke="#111" stroke-width="1.05"/>
<line x1="485.00" y1="156.00" x2="510.60" y2="150.00" stroke="#111" stroke-width="1.05"/>
<line x1="485.00" y1="157.00" x2="510.60" y2="165.00" stroke="#111" stroke-width="1.05"/>
<line x1="485.00" y1="158.00" x2="510.60" y2="153.00" stroke="#111" stroke-width="1.05"/>
<line x1="485.00" y1="160.00" x2="510.60" y2="158.00" stroke="#111" stroke-width="1.05"/>
<line x1="485.00" y1="161.00" x2="510.60" y2="147.00" stroke="#111" stroke-width="1.05"/>
<line x1="485.00" y1="162.00" x2="510.60" y2="162.00" stroke="#111" stroke-width="1.05"/>
<line x1="485.00" y1="164.00" x2="510.60" y2="155.00" stroke="#111" stroke-width="1.05"/>
<line x1="485.00" y1="165.00" x2="510.60" y2="149.00" stroke="#111" stroke-width="1.05"/>
<line x1="485.00" y1="167.00" x2="510.60" y2="170.00" stroke="#111" stroke-width="1.05"/>
<line x1="485.00" y1="169.00" x2="510.60" y2="152.00" stroke="#111" stroke-width="1.05"/>
<line x1="485.00" y1="186.80" x2="510.60" y2="162.80" stroke="#111" stroke-width="1.05"/>
<line x1="554.20" y1="91.30" x2="579.80" y2="91.50" stroke="#111" stroke-width="1.05"/>
<line x1="554.20" y1="99.50" x2="579.80" y2="101.50" stroke="#111" stroke-width="1.05"/>
<line x1="554.20" y1="115.90" x2="579.80" y2="146.70" stroke="#111" stroke-width="1.05"/>
<line x1="554.20" y1="120.80" x2="579.80" y2="153.10" stroke="#111" stroke-width="1.05"/>
<line x1="554.20" y1="128.70" x2="579.80" y2="129.70" stroke="#111" stroke-width="1.05"/>
<line x1="554.20" y1="132.80" x2="579.80" y2="169.70" stroke="#111" stroke-width="1.05"/>
<line x1="554.20" y1="133.80" x2="579.80" y2="172.30" stroke="#111" stroke-width="1.05"/>
<line x1="554.20" y1="135.10" x2="579.80" y2="168.50" stroke="#111" stroke-width="1.05"/>
<line x1="554.20" y1="136.40" x2="579.80" y2="174.90" stroke="#111" stroke-width="1.05"/>
<line x1="554.20" y1="144.10" x2="579.80" y2="153.10" stroke="#111" stroke-width="1.05"/>
<line x1="554.20" y1="148.60" x2="579.80" y2="146.00" stroke="#111" stroke-width="1.05"/>
<line x1="554.20" y1="149.20" x2="579.80" y2="180.00" stroke="#111" stroke-width="1.05"/>
<line x1="554.20" y1="179.40" x2="579.80" y2="174.90" stroke="#111" stroke-width="1.05"/>
<line x1="554.20" y1="180.60" x2="579.80" y2="178.70" stroke="#111" stroke-width="1.05"/>
<line x1="554.20" y1="181.90" x2="579.80" y2="182.60" stroke="#111" stroke-width="1.05"/>
<line x1="554.20" y1="183.80" x2="579.80" y2="186.40" stroke="#111" stroke-width="1.05"/>
<line x1="554.20" y1="178.00" x2="579.80" y2="181.00" stroke="#111" stroke-width="1.05"/>
<line x1="467.80" y1="110.90" x2="467.80" y2="190.80" stroke="#2a2a2a" stroke-width="1.1"/>
<line x1="467.30" y1="190.30" x2="598.00" y2="190.30" stroke="#2a2a2a" stroke-width="1.1"/>
<line x1="497.60" y1="190.30" x2="497.60" y2="193.80" stroke="#2a2a2a" stroke-width="1.0"/>
<line x1="566.50" y1="190.30" x2="566.50" y2="193.80" stroke="#2a2a2a" stroke-width="1.0"/>
<text id="oB0" x="468.47" y="206.00" font-size="12.80" fill="#111" color="#111" textLength="25.82" lengthAdjust="spacingAndGlyphs">OFF</text>
<text id="oB1" x="502.10" y="206.00" font-size="12.80" fill="#111" color="#111" textLength="19.76" lengthAdjust="spacingAndGlyphs">ON</text>
<text id="oB2" x="541.37" y="206.00" font-size="12.80" fill="#111" color="#111" textLength="25.09" lengthAdjust="spacingAndGlyphs">OFF</text>
<text id="oB3" x="574.41" y="206.00" font-size="12.80" fill="#111" color="#111" textLength="19.89" lengthAdjust="spacingAndGlyphs">ON</text>
<text id="hB1" x="473.10" y="62.00" font-size="12.80" fill="#111" color="#111" textLength="43.02" lengthAdjust="spacingAndGlyphs">Control</text>
<text id="hB2" x="530.13" y="62.00" font-size="12.80" fill="#111" color="#111" textLength="69.82" lengthAdjust="spacingAndGlyphs">iMSN-ChR2</text>
<path d="M566.00,75.30 L566.00,72.20 M566.00,75.30 L563.05,74.34 M566.00,75.30 L564.18,77.81 M566.00,75.30 L567.82,77.81 M566.00,75.30 L568.95,74.34 " stroke="#111" stroke-width="2.0" stroke-linecap="round" fill="none"/>
<text id="yB" transform="translate(435.06,132.01) rotate(-90)" x="0" y="0" font-size="12.80" text-anchor="middle" fill="#111" color="#111" textLength="135.43" lengthAdjust="spacingAndGlyphs">Time in Open Arms (%)</text>
<line x1="61.00" y1="264.50" x2="64.20" y2="264.50" stroke="#2a2a2a" stroke-width="1.0"/>
<text x="61.55" y="269.15" font-size="13.0" text-anchor="end" fill="#111" color="#111">30</text>
<line x1="61.00" y1="302.30" x2="64.20" y2="302.30" stroke="#2a2a2a" stroke-width="1.0"/>
<text x="61.55" y="306.95" font-size="13.0" text-anchor="end" fill="#111" color="#111">20</text>
<line x1="61.00" y1="340.30" x2="64.20" y2="340.30" stroke="#2a2a2a" stroke-width="1.0"/>
<text x="61.55" y="344.95" font-size="13.0" text-anchor="end" fill="#111" color="#111">10</text>
<line x1="61.00" y1="378.60" x2="64.20" y2="378.60" stroke="#2a2a2a" stroke-width="1.0"/>
<text x="61.55" y="383.25" font-size="13.0" text-anchor="end" fill="#111" color="#111">0</text>
<rect x="73.25" y="335.85" width="16.60" height="42.65" fill="#fff" stroke="#8d8d8d" stroke-width="1.7"/>
<rect x="99.35" y="337.65" width="16.50" height="40.85" fill="#fff" stroke="#2a6fc0" stroke-width="1.7"/>
<rect x="142.20" y="339.30" width="17.20" height="39.20" fill="#a7a7a7" stroke="none" stroke-width="0"/>
<rect x="168.30" y="351.10" width="16.70" height="27.40" fill="#6699cc" stroke="none" stroke-width="0"/>
<line x1="81.80" y1="279.80" x2="107.80" y2="302.60" stroke="#111" stroke-width="1.05"/>
<line x1="81.80" y1="287.00" x2="107.80" y2="297.80" stroke="#111" stroke-width="1.05"/>
<line x1="81.80" y1="302.60" x2="107.80" y2="336.30" stroke="#111" stroke-width="1.05"/>
<line x1="81.80" y1="319.50" x2="107.80" y2="295.40" stroke="#111" stroke-width="1.05"/>
<line x1="81.80" y1="326.00" x2="107.80" y2="344.00" stroke="#111" stroke-width="1.05"/>
<line x1="81.80" y1="332.00" x2="107.80" y2="320.00" stroke="#111" stroke-width="1.05"/>
<line x1="81.80" y1="336.00" x2="107.80" y2="355.00" stroke="#111" stroke-width="1.05"/>
<line x1="81.80" y1="340.00" x2="107.80" y2="326.00" stroke="#111" stroke-width="1.05"/>
<line x1="81.80" y1="344.00" x2="107.80" y2="350.00" stroke="#111" stroke-width="1.05"/>
<line x1="81.80" y1="348.00" x2="107.80" y2="335.00" stroke="#111" stroke-width="1.05"/>
<line x1="81.80" y1="352.00" x2="107.80" y2="343.00" stroke="#111" stroke-width="1.05"/>
<line x1="81.80" y1="356.00" x2="107.80" y2="330.00" stroke="#111" stroke-width="1.05"/>
<line x1="81.80" y1="360.00" x2="107.80" y2="354.00" stroke="#111" stroke-width="1.05"/>
<line x1="81.80" y1="364.00" x2="107.80" y2="338.00" stroke="#111" stroke-width="1.05"/>
<line x1="81.80" y1="366.30" x2="107.80" y2="363.90" stroke="#111" stroke-width="1.05"/>
<line x1="81.80" y1="370.00" x2="107.80" y2="332.70" stroke="#111" stroke-width="1.05"/>
<line x1="81.80" y1="345.00" x2="107.80" y2="341.00" stroke="#111" stroke-width="1.05"/>
<line x1="81.80" y1="340.00" x2="107.80" y2="346.00" stroke="#111" stroke-width="1.05"/>
<line x1="81.80" y1="313.50" x2="107.80" y2="313.50" stroke="#8a8a8a" stroke-width="1.7"/>
<line x1="151.00" y1="283.40" x2="176.70" y2="302.60" stroke="#111" stroke-width="1.05"/>
<line x1="151.00" y1="302.00" x2="176.70" y2="294.80" stroke="#111" stroke-width="1.05"/>
<line x1="151.00" y1="299.00" x2="176.70" y2="340.50" stroke="#111" stroke-width="1.05"/>
<line x1="151.00" y1="306.20" x2="176.70" y2="332.70" stroke="#111" stroke-width="1.05"/>
<line x1="151.00" y1="325.50" x2="176.70" y2="359.10" stroke="#111" stroke-width="1.05"/>
<line x1="151.00" y1="333.30" x2="176.70" y2="366.30" stroke="#111" stroke-width="1.05"/>
<line x1="151.00" y1="344.10" x2="176.70" y2="359.10" stroke="#111" stroke-width="1.05"/>
<line x1="151.00" y1="347.10" x2="176.70" y2="363.90" stroke="#111" stroke-width="1.05"/>
<line x1="151.00" y1="348.30" x2="176.70" y2="344.70" stroke="#111" stroke-width="1.05"/>
<line x1="151.00" y1="351.90" x2="176.70" y2="357.90" stroke="#111" stroke-width="1.05"/>
<line x1="151.00" y1="355.50" x2="176.70" y2="353.10" stroke="#111" stroke-width="1.05"/>
<line x1="151.00" y1="356.70" x2="176.70" y2="361.50" stroke="#111" stroke-width="1.05"/>
<line x1="151.00" y1="363.30" x2="176.70" y2="362.70" stroke="#111" stroke-width="1.05"/>
<line x1="151.00" y1="367.50" x2="176.70" y2="373.60" stroke="#111" stroke-width="1.05"/>
<line x1="151.00" y1="371.20" x2="176.70" y2="374.80" stroke="#111" stroke-width="1.05"/>
<line x1="64.20" y1="264.50" x2="64.20" y2="379.00" stroke="#2a2a2a" stroke-width="1.1"/>
<line x1="63.70" y1="378.50" x2="194.40" y2="378.50" stroke="#2a2a2a" stroke-width="1.1"/>
<line x1="94.60" y1="378.50" x2="94.60" y2="382.00" stroke="#2a2a2a" stroke-width="1.0"/>
<line x1="163.90" y1="378.50" x2="163.90" y2="382.00" stroke="#2a2a2a" stroke-width="1.0"/>
<text id="oC0" x="64.48" y="394.00" font-size="12.80" fill="#111" color="#111" textLength="25.31" lengthAdjust="spacingAndGlyphs">OFF</text>
<text id="oC1" x="97.59" y="394.00" font-size="12.80" fill="#111" color="#111" textLength="20.71" lengthAdjust="spacingAndGlyphs">ON</text>
<text id="oC2" x="134.48" y="394.00" font-size="12.80" fill="#111" color="#111" textLength="25.31" lengthAdjust="spacingAndGlyphs">OFF</text>
<text id="oC3" x="166.88" y="394.00" font-size="12.80" fill="#111" color="#111" textLength="20.36" lengthAdjust="spacingAndGlyphs">ON</text>
<text id="hC1" x="68.62" y="250.00" font-size="12.80" fill="#111" color="#111" textLength="42.45" lengthAdjust="spacingAndGlyphs">Control</text>
<text id="hC2" x="126.02" y="250.00" font-size="12.80" fill="#111" color="#111" textLength="69.91" lengthAdjust="spacingAndGlyphs">iMSN-ChR2</text>
<path d="M163.00,264.10 L163.00,261.00 M163.00,264.10 L160.05,263.14 M163.00,264.10 L161.18,266.61 M163.00,264.10 L164.82,266.61 M163.00,264.10 L165.95,263.14 " stroke="#111" stroke-width="2.0" stroke-linecap="round" fill="none"/>
<text id="yC1" transform="translate(22.85,316.30) rotate(-90)" x="0" y="0" font-size="12.80" text-anchor="middle" fill="#111" color="#111" textLength="91.93" lengthAdjust="spacingAndGlyphs">Movements into</text>
<text id="yC2" transform="translate(34.92,316.42) rotate(-90)" x="0" y="0" font-size="12.80" text-anchor="middle" fill="#111" color="#111" textLength="64.06" lengthAdjust="spacingAndGlyphs">Open arms</text>
<line x1="268.80" y1="258.80" x2="272.00" y2="258.80" stroke="#2a2a2a" stroke-width="1.0"/>
<text x="267.45" y="263.45" font-size="13.0" text-anchor="end" fill="#111" color="#111">80</text>
<line x1="268.80" y1="288.80" x2="272.00" y2="288.80" stroke="#2a2a2a" stroke-width="1.0"/>
<text x="267.45" y="293.45" font-size="13.0" text-anchor="end" fill="#111" color="#111">60</text>
<line x1="268.80" y1="318.80" x2="272.00" y2="318.80" stroke="#2a2a2a" stroke-width="1.0"/>
<text x="267.45" y="323.45" font-size="13.0" text-anchor="end" fill="#111" color="#111">40</text>
<line x1="268.80" y1="348.80" x2="272.00" y2="348.80" stroke="#2a2a2a" stroke-width="1.0"/>
<text x="267.45" y="353.45" font-size="13.0" text-anchor="end" fill="#111" color="#111">20</text>
<line x1="268.80" y1="378.70" x2="272.00" y2="378.70" stroke="#2a2a2a" stroke-width="1.0"/>
<text x="267.45" y="383.35" font-size="13.0" text-anchor="end" fill="#111" color="#111">0</text>
<rect x="281.55" y="324.95" width="16.80" height="53.75" fill="#fff" stroke="#8d8d8d" stroke-width="1.7"/>
<rect x="309.25" y="320.05" width="16.60" height="58.65" fill="#fff" stroke="#2a6fc0" stroke-width="1.7"/>
<rect x="354.10" y="332.30" width="17.10" height="46.40" fill="#a7a7a7" stroke="none" stroke-width="0"/>
<rect x="381.20" y="333.20" width="17.50" height="45.50" fill="#6699cc" stroke="none" stroke-width="0"/>
<line x1="290.20" y1="292.80" x2="317.10" y2="299.70" stroke="#111" stroke-width="1.05"/>
<line x1="290.20" y1="303.50" x2="317.10" y2="310.00" stroke="#111" stroke-width="1.05"/>
<line x1="290.20" y1="307.80" x2="317.10" y2="308.40" stroke="#111" stroke-width="1.05"/>
<line x1="290.20" y1="310.00" x2="317.10" y2="312.00" stroke="#111" stroke-width="1.05"/>
<line x1="290.20" y1="312.70" x2="317.10" y2="317.60" stroke="#111" stroke-width="1.05"/>
<line x1="290.20" y1="315.40" x2="317.10" y2="314.30" stroke="#111" stroke-width="1.05"/>
<line x1="290.20" y1="316.50" x2="317.10" y2="319.80" stroke="#111" stroke-width="1.05"/>
<line x1="290.20" y1="318.00" x2="317.10" y2="306.00" stroke="#111" stroke-width="1.05"/>
<line x1="290.20" y1="322.00" x2="317.10" y2="323.00" stroke="#111" stroke-width="1.05"/>
<line x1="290.20" y1="335.00" x2="317.10" y2="299.70" stroke="#111" stroke-width="1.05"/>
<line x1="290.20" y1="328.50" x2="317.10" y2="330.70" stroke="#111" stroke-width="1.05"/>
<line x1="290.20" y1="326.00" x2="317.10" y2="317.00" stroke="#111" stroke-width="1.05"/>
<line x1="290.20" y1="330.00" x2="317.10" y2="304.00" stroke="#111" stroke-width="1.05"/>
<line x1="290.20" y1="324.00" x2="317.10" y2="312.00" stroke="#111" stroke-width="1.05"/>
<line x1="290.20" y1="347.00" x2="317.10" y2="350.20" stroke="#111" stroke-width="1.05"/>
<line x1="290.20" y1="350.20" x2="317.10" y2="339.90" stroke="#111" stroke-width="1.05"/>
<line x1="290.20" y1="354.60" x2="317.10" y2="356.20" stroke="#111" stroke-width="1.05"/>
<line x1="362.80" y1="313.30" x2="389.70" y2="287.20" stroke="#111" stroke-width="1.05"/>
<line x1="362.80" y1="303.50" x2="389.70" y2="311.10" stroke="#111" stroke-width="1.05"/>
<line x1="362.80" y1="313.80" x2="389.70" y2="312.70" stroke="#111" stroke-width="1.05"/>
<line x1="362.80" y1="314.50" x2="389.70" y2="320.00" stroke="#111" stroke-width="1.05"/>
<line x1="362.80" y1="323.00" x2="389.70" y2="313.30" stroke="#111" stroke-width="1.05"/>
<line x1="362.80" y1="322.50" x2="389.70" y2="329.00" stroke="#111" stroke-width="1.05"/>
<line x1="362.80" y1="326.30" x2="389.70" y2="356.70" stroke="#111" stroke-width="1.05"/>
<line x1="362.80" y1="341.50" x2="389.70" y2="319.80" stroke="#111" stroke-width="1.05"/>
<line x1="362.80" y1="336.60" x2="389.70" y2="342.10" stroke="#111" stroke-width="1.05"/>
<line x1="362.80" y1="340.40" x2="389.70" y2="347.50" stroke="#111" stroke-width="1.05"/>
<line x1="362.80" y1="343.00" x2="389.70" y2="350.00" stroke="#111" stroke-width="1.05"/>
<line x1="362.80" y1="345.00" x2="389.70" y2="352.00" stroke="#111" stroke-width="1.05"/>
<line x1="362.80" y1="354.60" x2="389.70" y2="347.50" stroke="#111" stroke-width="1.05"/>
<line x1="362.80" y1="356.20" x2="389.70" y2="360.00" stroke="#111" stroke-width="1.05"/>
<line x1="362.80" y1="358.90" x2="389.70" y2="361.10" stroke="#111" stroke-width="1.05"/>
<line x1="362.80" y1="360.00" x2="389.70" y2="362.20" stroke="#111" stroke-width="1.05"/>
<line x1="272.00" y1="258.80" x2="272.00" y2="379.20" stroke="#2a2a2a" stroke-width="1.1"/>
<line x1="271.50" y1="378.70" x2="409.30" y2="378.70" stroke="#2a2a2a" stroke-width="1.1"/>
<line x1="303.80" y1="378.70" x2="303.80" y2="382.20" stroke="#2a2a2a" stroke-width="1.0"/>
<line x1="376.30" y1="378.70" x2="376.30" y2="382.20" stroke="#2a2a2a" stroke-width="1.0"/>
<text id="oD0" x="274.23" y="396.00" font-size="12.80" fill="#111" color="#111" textLength="26.16" lengthAdjust="spacingAndGlyphs">OFF</text>
<text id="oD1" x="307.59" y="396.00" font-size="12.80" fill="#111" color="#111" textLength="20.71" lengthAdjust="spacingAndGlyphs">ON</text>
<text id="oD2" x="346.93" y="396.00" font-size="12.80" fill="#111" color="#111" textLength="26.02" lengthAdjust="spacingAndGlyphs">OFF</text>
<text id="oD3" x="380.63" y="396.00" font-size="12.80" fill="#111" color="#111" textLength="20.31" lengthAdjust="spacingAndGlyphs">ON</text>
<text id="hD1" x="272.27" y="251.00" font-size="12.80" fill="#111" color="#111" textLength="41.91" lengthAdjust="spacingAndGlyphs">Control</text>
<text id="hD2" x="328.94" y="251.00" font-size="12.80" fill="#111" color="#111" textLength="69.63" lengthAdjust="spacingAndGlyphs">iMSN-ChR2</text>
<text id="yD1" transform="translate(227.85,316.30) rotate(-90)" x="0" y="0" font-size="12.80" text-anchor="middle" fill="#111" color="#111" textLength="91.93" lengthAdjust="spacingAndGlyphs">Movements into</text>
<text id="yD2" transform="translate(240.56,314.55) rotate(-90)" x="0" y="0" font-size="12.80" text-anchor="middle" fill="#111" color="#111" textLength="72.30" lengthAdjust="spacingAndGlyphs">Closed arms</text>
<line x1="475.20" y1="251.30" x2="475.20" y2="375.20" stroke="#2a2a2a" stroke-width="1.1"/>
<line x1="474.70" y1="374.70" x2="615.30" y2="374.70" stroke="#2a2a2a" stroke-width="1.1"/>
<line x1="471.80" y1="374.70" x2="475.20" y2="374.70" stroke="#2a2a2a" stroke-width="1.0"/>
<text x="470.05" y="379.35" font-size="13.0" text-anchor="end" fill="#111" color="#111">0</text>
<line x1="471.80" y1="343.90" x2="475.20" y2="343.90" stroke="#2a2a2a" stroke-width="1.0"/>
<text x="470.05" y="348.55" font-size="13.0" text-anchor="end" fill="#111" color="#111">10</text>
<line x1="471.80" y1="313.10" x2="475.20" y2="313.10" stroke="#2a2a2a" stroke-width="1.0"/>
<text x="470.05" y="317.75" font-size="13.0" text-anchor="end" fill="#111" color="#111">20</text>
<line x1="471.80" y1="282.30" x2="475.20" y2="282.30" stroke="#2a2a2a" stroke-width="1.0"/>
<text x="470.05" y="286.95" font-size="13.0" text-anchor="end" fill="#111" color="#111">30</text>
<line x1="471.80" y1="251.50" x2="475.20" y2="251.50" stroke="#2a2a2a" stroke-width="1.0"/>
<text x="470.05" y="256.15" font-size="13.0" text-anchor="end" fill="#111" color="#111">40</text>
<line x1="475.20" y1="374.70" x2="475.20" y2="378.50" stroke="#2a2a2a" stroke-width="1.0"/>
<text x="475.20" y="393.10" font-size="13.0" text-anchor="middle" fill="#111" color="#111">0</text>
<line x1="503.20" y1="374.70" x2="503.20" y2="378.50" stroke="#2a2a2a" stroke-width="1.0"/>
<text x="503.20" y="393.10" font-size="13.0" text-anchor="middle" fill="#111" color="#111">5</text>
<line x1="531.20" y1="374.70" x2="531.20" y2="378.50" stroke="#2a2a2a" stroke-width="1.0"/>
<text x="531.20" y="393.10" font-size="13.0" text-anchor="middle" fill="#111" color="#111">10</text>
<line x1="559.20" y1="374.70" x2="559.20" y2="378.50" stroke="#2a2a2a" stroke-width="1.0"/>
<text x="559.20" y="393.10" font-size="13.0" text-anchor="middle" fill="#111" color="#111">15</text>
<line x1="587.20" y1="374.70" x2="587.20" y2="378.50" stroke="#2a2a2a" stroke-width="1.0"/>
<text x="587.20" y="393.10" font-size="13.0" text-anchor="middle" fill="#111" color="#111">20</text>
<line x1="615.20" y1="374.70" x2="615.20" y2="378.50" stroke="#2a2a2a" stroke-width="1.0"/>
<text x="615.20" y="393.10" font-size="13.0" text-anchor="middle" fill="#111" color="#111">25</text>
<line x1="480.10" y1="364.60" x2="598.70" y2="277.00" stroke="#c9303a" stroke-width="1.1"/>
<circle cx="514.40" cy="316.18" r="3.25" fill="#050505"/>
<circle cx="497.26" cy="332.20" r="3.25" fill="#050505"/>
<circle cx="503.20" cy="339.59" r="3.25" fill="#050505"/>
<circle cx="525.60" cy="333.12" r="3.25" fill="#050505"/>
<circle cx="531.20" cy="338.05" r="3.25" fill="#050505"/>
<circle cx="491.78" cy="355.30" r="3.25" fill="#050505"/>
<circle cx="497.26" cy="360.22" r="3.25" fill="#050505"/>
<circle cx="503.20" cy="358.38" r="3.25" fill="#050505"/>
<circle cx="503.20" cy="364.23" r="3.25" fill="#050505"/>
<circle cx="492.00" cy="366.38" r="3.25" fill="#050505"/>
<circle cx="480.46" cy="367.62" r="3.25" fill="#050505"/>
<circle cx="480.80" cy="372.24" r="3.25" fill="#050505"/>
<circle cx="542.40" cy="265.98" r="3.25" fill="#050505"/>
<circle cx="587.20" cy="291.54" r="3.25" fill="#050505"/>
<circle cx="598.40" cy="295.24" r="3.25" fill="#050505"/>
<text id="Er2" x="563.37" y="355.42" font-size="12.80" fill="#c9303a" color="#c9303a" textLength="47.97" lengthAdjust="spacingAndGlyphs">R<tspan font-size="10" dy="-2.8">2</tspan><tspan dy="2.8">=0.66</tspan></text>
<text id="Ep" x="561.10" y="366.83" font-size="12.80" fill="#c9303a" color="#c9303a" textLength="53.10" lengthAdjust="spacingAndGlyphs">p&lt;0.0001</text>
<text id="xE" x="492.06" y="407.05" font-size="12.80" fill="#111" color="#111" textLength="124.81" lengthAdjust="spacingAndGlyphs">Movements into Open</text>
<text id="yE" transform="translate(445.17,316.71) rotate(-90)" x="0" y="0" font-size="12.80" text-anchor="middle" fill="#111" color="#111" textLength="136.04" lengthAdjust="spacingAndGlyphs">Time in Open Arms (%)</text>
<rect x="68.00" y="547.00" width="71.50" height="72.30" fill="#cccccc" stroke="none" stroke-width="0"/>
<path d="M36.5,515.7 C37.4,516.1 41.8,518.9 43.8,519.1 C45.8,519.2 49.0,517.1 53.4,517.0 C57.7,516.9 73.6,517.9 79.8,518.3 C86.0,518.6 102.0,520.0 105.0,520.2" fill="none" stroke="#000" stroke-width="1.1" stroke-linejoin="round"/>
<path d="M37.4,521.7 C39.3,521.5 48.6,519.8 53.6,520.0 C58.6,520.2 73.0,523.2 79.1,523.4 C85.2,523.5 101.6,521.5 104.6,521.3" fill="none" stroke="#000" stroke-width="1.1" stroke-linejoin="round"/>
<path d="M55.3,521.7 C57.9,522.6 72.4,528.0 76.8,529.8 C81.3,531.7 89.3,535.6 92.2,537.1 C95.0,538.7 99.3,542.2 100.3,542.9" fill="none" stroke="#000" stroke-width="1.1" stroke-linejoin="round"/>
<path d="M41.9,543.7 C45.4,543.1 64.9,539.4 70.9,538.1 C76.9,536.9 87.9,534.3 92.0,533.4 C96.0,532.4 103.1,530.6 104.6,530.3" fill="none" stroke="#000" stroke-width="1.1" stroke-linejoin="round"/>
<path d="M43.4,544.8 C46.0,544.6 59.5,543.4 65.3,543.3 C71.0,543.2 86.3,544.0 91.1,544.2 C95.9,544.3 103.6,544.5 105.3,544.5" fill="none" stroke="#000" stroke-width="1.1" stroke-linejoin="round"/>
<path d="M80.2,523.9 C78.8,527.3 70.9,545.9 68.4,552.2 C65.9,558.4 61.5,572.1 59.1,576.0 C56.6,579.9 49.5,583.7 48.2,584.7" fill="none" stroke="#000" stroke-width="1.1" stroke-linejoin="round"/>
<path d="M66.1,542.8 C66.0,544.4 66.0,551.1 65.7,556.2 C65.5,561.2 64.1,581.4 63.9,584.9" fill="none" stroke="#000" stroke-width="1.1" stroke-linejoin="round"/>
<path d="M53.9,554.0 C53.6,555.7 51.8,564.7 51.4,568.4 C51.0,572.1 50.6,582.9 50.5,584.8" fill="none" stroke="#000" stroke-width="1.1" stroke-linejoin="round"/>
<path d="M48.9,551.9 C50.2,551.8 56.8,552.0 59.3,551.7 C61.7,551.5 66.2,550.1 69.2,549.7 C72.3,549.4 80.1,549.2 84.4,549.0 C88.7,548.8 102.4,548.3 104.9,548.2" fill="none" stroke="#000" stroke-width="1.1" stroke-linejoin="round"/>
<path d="M39.2,522.2 C39.1,525.0 38.3,537.6 38.3,545.1 C38.2,552.6 38.7,580.2 38.7,585.0" fill="none" stroke="#000" stroke-width="1.1" stroke-linejoin="round"/>
<path d="M41.7,525.0 C42.0,527.3 44.7,537.4 44.7,544.6 C44.7,551.8 42.2,580.1 41.8,585.0" fill="none" stroke="#000" stroke-width="1.1" stroke-linejoin="round"/>
<path d="M45.2,527.7 C45.5,530.5 47.4,544.1 47.5,551.0 C47.7,557.9 46.6,581.2 46.5,585.3" fill="none" stroke="#000" stroke-width="1.1" stroke-linejoin="round"/>
<path d="M36.9,515.2 C37.7,515.5 43.1,517.1 43.5,518.4 C43.9,519.7 40.7,524.1 40.3,525.9 C39.8,527.7 39.7,532.4 39.6,533.3" fill="none" stroke="#000" stroke-width="1.1" stroke-linejoin="round"/>
<path d="M100.0,520.0 C102.7,519.8 117.8,518.0 122.4,518.1 C126.9,518.2 135.2,519.8 137.8,520.6 C140.4,521.5 143.4,524.7 144.2,525.2" fill="none" stroke="#000" stroke-width="1.1" stroke-linejoin="round"/>
<path d="M100.0,523.4 C103.0,523.2 117.6,522.0 124.8,521.7 C132.0,521.4 154.7,520.9 160.1,520.6 C165.4,520.3 168.4,519.5 169.5,519.3" fill="none" stroke="#000" stroke-width="1.1" stroke-linejoin="round"/>
<path d="M100.3,527.5 C102.5,527.3 113.6,525.4 118.8,525.3 C124.0,525.3 138.7,527.3 143.6,527.1 C148.5,526.9 158.0,524.1 159.9,523.7" fill="none" stroke="#000" stroke-width="1.1" stroke-linejoin="round"/>
<path d="M167.6,521.7 C163.9,523.4 145.3,533.6 137.1,536.5 C129.0,539.3 104.3,544.4 99.8,545.5" fill="none" stroke="#000" stroke-width="1.1" stroke-linejoin="round"/>
<path d="M164.9,523.0 C160.9,526.1 138.1,544.2 131.8,549.0 C125.5,553.8 116.0,560.1 112.3,562.9 C108.5,565.8 101.8,571.6 100.3,572.8" fill="none" stroke="#000" stroke-width="1.1" stroke-linejoin="round"/>
<path d="M160.4,520.1 C158.1,521.7 145.2,530.1 140.9,533.0 C136.7,535.9 129.6,542.1 124.7,544.1 C119.8,546.0 103.1,548.8 100.1,549.5" fill="none" stroke="#000" stroke-width="1.1" stroke-linejoin="round"/>
<path d="M170.0,524.2 C167.7,527.2 154.6,545.0 150.4,549.4 C146.2,553.8 136.8,559.5 134.9,560.9" fill="none" stroke="#000" stroke-width="1.1" stroke-linejoin="round"/>
<path d="M99.7,546.8 C101.0,546.9 107.9,547.5 110.2,548.0 C112.5,548.5 115.9,549.4 118.6,550.6 C121.2,551.8 129.5,556.3 132.3,557.8 C135.2,559.4 139.8,562.3 142.2,563.4 C144.6,564.5 149.9,567.5 152.3,567.1 C154.8,566.7 161.4,561.2 162.6,560.4" fill="none" stroke="#000" stroke-width="1.1" stroke-linejoin="round"/>
<path d="M160.2,520.6 C160.0,523.5 158.8,537.0 158.8,545.1 C158.8,553.2 159.9,583.1 160.0,588.3" fill="none" stroke="#000" stroke-width="1.1" stroke-linejoin="round"/>
<path d="M165.1,523.3 C165.5,526.7 167.3,544.2 167.9,551.9 C168.6,559.6 170.3,583.3 170.6,587.5" fill="none" stroke="#000" stroke-width="1.1" stroke-linejoin="round"/>
<path d="M162.4,532.2 C161.4,535.3 155.1,551.4 154.0,558.0 C152.9,564.7 153.1,584.3 153.0,587.9" fill="none" stroke="#000" stroke-width="1.1" stroke-linejoin="round"/>
<path d="M99.4,569.6 C101.7,569.2 114.4,565.6 118.3,566.4 C122.3,567.1 129.9,574.0 132.4,575.7 C135.0,577.4 139.0,580.0 139.8,580.6" fill="none" stroke="#000" stroke-width="1.1" stroke-linejoin="round"/>
<path d="M118.2,562.3 C119.5,562.5 126.8,562.7 128.7,564.3 C130.6,565.9 133.6,572.7 133.9,575.6 C134.2,578.4 131.6,586.3 131.3,587.7" fill="none" stroke="#000" stroke-width="1.1" stroke-linejoin="round"/>
<path d="M142.5,525.6 C142.7,526.5 143.8,530.6 144.1,533.0 C144.4,535.4 144.3,543.9 145.0,545.6 C145.8,547.3 149.6,546.7 150.2,546.8" fill="none" stroke="#000" stroke-width="1.1" stroke-linejoin="round"/>
<path d="M169.3,518.5 C169.4,519.5 170.7,525.0 170.3,526.8 C170.0,528.7 166.1,532.4 166.3,534.0 C166.4,535.7 171.1,538.7 171.5,540.8 C171.9,542.8 169.7,550.2 169.4,551.4" fill="none" stroke="#000" stroke-width="1.1" stroke-linejoin="round"/>
<path d="M38.9,579.7 C39.1,581.1 40.4,588.1 40.7,591.8 C41.0,595.5 41.7,606.3 41.7,610.6 C41.7,614.9 41.0,623.6 40.8,627.6 C40.7,631.5 40.3,641.7 40.3,643.6" fill="none" stroke="#000" stroke-width="1.1" stroke-linejoin="round"/>
<path d="M44.4,579.9 C44.2,582.2 43.1,593.2 42.8,598.8 C42.4,604.3 41.5,622.9 41.4,626.1" fill="none" stroke="#000" stroke-width="1.1" stroke-linejoin="round"/>
<path d="M48.2,580.0 C48.0,583.1 47.2,600.0 46.6,605.7 C46.0,611.3 43.5,624.7 43.0,627.3" fill="none" stroke="#000" stroke-width="1.1" stroke-linejoin="round"/>
<path d="M41.8,627.3 C45.1,624.8 62.6,611.2 69.1,606.1 C75.7,601.1 92.0,588.1 96.1,585.0 C100.2,581.9 102.2,580.8 103.1,580.2" fill="none" stroke="#000" stroke-width="1.1" stroke-linejoin="round"/>
<path d="M43.6,629.9 C46.8,627.6 63.8,616.0 70.3,610.7 C76.8,605.5 93.0,589.7 97.6,586.1 C102.1,582.5 106.9,581.3 108.2,580.7" fill="none" stroke="#000" stroke-width="1.1" stroke-linejoin="round"/>
<path d="M46.5,583.0 C49.2,586.4 64.2,604.1 69.4,611.1 C74.7,618.1 87.9,637.8 90.4,641.4" fill="none" stroke="#000" stroke-width="1.1" stroke-linejoin="round"/>
<path d="M53.1,580.1 C53.0,581.6 51.9,588.4 52.9,592.9 C53.8,597.4 59.0,613.3 61.0,617.5 C62.9,621.7 68.1,626.5 69.1,627.7" fill="none" stroke="#000" stroke-width="1.1" stroke-linejoin="round"/>
<path d="M41.9,627.2 C45.2,627.3 61.2,627.8 69.1,628.4 C77.0,629.1 103.3,631.9 108.0,632.4" fill="none" stroke="#000" stroke-width="1.1" stroke-linejoin="round"/>
<path d="M45.6,632.5 C49.5,633.2 70.4,637.3 78.0,638.2 C85.6,639.1 104.9,639.8 108.5,640.1" fill="none" stroke="#000" stroke-width="1.1" stroke-linejoin="round"/>
<path d="M45.2,635.3 C46.9,636.5 55.4,643.3 59.3,645.0 C63.3,646.7 72.5,649.1 78.3,649.4 C84.2,649.8 104.6,648.1 108.2,648.0" fill="none" stroke="#000" stroke-width="1.1" stroke-linejoin="round"/>
<path d="M58.6,650.9 C64.6,651.2 101.9,652.5 107.8,652.7" fill="none" stroke="#000" stroke-width="1.1" stroke-linejoin="round"/>
<path d="M33.7,634.9 C34.6,634.1 40.1,626.8 40.9,627.8 C41.6,628.8 40.1,641.3 40.0,643.2" fill="none" stroke="#000" stroke-width="1.1" stroke-linejoin="round"/>
<path d="M108.7,615.2 C107.4,617.0 100.5,627.1 98.2,630.1 C96.0,633.2 91.0,639.5 90.0,640.8" fill="none" stroke="#000" stroke-width="1.1" stroke-linejoin="round"/>
<path d="M131.4,579.5 C129.4,582.5 118.5,599.6 114.8,605.0 C111.1,610.5 102.2,622.6 100.4,625.0" fill="none" stroke="#000" stroke-width="1.1" stroke-linejoin="round"/>
<path d="M134.5,580.1 C134.8,581.3 136.8,587.3 137.1,590.4 C137.5,593.4 137.1,602.3 137.4,605.5 C137.8,608.8 140.0,614.3 140.0,617.2 C139.9,620.1 137.8,626.5 137.1,629.9 C136.3,633.3 135.0,642.7 133.9,645.4 C132.7,648.0 128.3,651.4 127.6,652.3" fill="none" stroke="#000" stroke-width="1.1" stroke-linejoin="round"/>
<path d="M152.7,579.6 C152.1,581.8 149.0,593.9 147.7,598.5 C146.3,603.1 143.2,613.3 141.7,617.8 C140.2,622.3 136.6,631.8 135.1,635.9 C133.6,640.1 129.7,650.6 128.9,652.6" fill="none" stroke="#000" stroke-width="1.1" stroke-linejoin="round"/>
<path d="M157.3,579.8 C156.5,582.1 151.8,594.8 150.4,598.6 C148.9,602.5 145.8,610.1 145.1,611.7" fill="none" stroke="#000" stroke-width="1.1" stroke-linejoin="round"/>
<path d="M162.1,580.5 C161.5,583.4 157.8,599.5 157.8,604.8 C157.8,610.1 160.7,619.9 162.2,624.6 C163.7,629.4 169.3,641.9 170.3,644.2" fill="none" stroke="#000" stroke-width="1.1" stroke-linejoin="round"/>
<path d="M167.8,580.1 C167.7,583.0 167.2,598.9 167.3,604.8 C167.4,610.8 168.3,624.8 168.6,629.9 C169.0,635.0 170.1,645.2 170.3,647.2" fill="none" stroke="#000" stroke-width="1.1" stroke-linejoin="round"/>
<path d="M170.3,580.3 C170.3,584.8 170.3,609.3 169.9,617.7 C169.6,626.0 167.6,646.1 167.3,650.0" fill="none" stroke="#000" stroke-width="1.1" stroke-linejoin="round"/>
<path d="M142.6,580.6 C143.8,582.0 150.1,588.8 152.5,592.5 C154.9,596.1 160.7,606.6 162.5,611.2 C164.3,615.8 166.6,628.2 167.2,630.6" fill="none" stroke="#000" stroke-width="1.1" stroke-linejoin="round"/>
<path d="M147.3,604.8 C148.4,606.4 153.8,614.6 156.0,617.7 C158.3,620.8 164.5,627.6 165.9,630.9 C167.3,634.2 167.6,643.4 167.8,645.1" fill="none" stroke="#000" stroke-width="1.1" stroke-linejoin="round"/>
<path d="M100.0,628.4 C104.5,629.4 132.4,635.1 137.7,636.2 C143.0,637.3 141.1,637.9 144.4,637.4 C147.6,636.9 162.3,632.6 164.7,631.9" fill="none" stroke="#000" stroke-width="1.1" stroke-linejoin="round"/>
<path d="M99.5,636.4 C102.5,635.6 119.1,630.9 125.1,629.7 C131.1,628.4 145.1,627.0 149.5,626.3 C154.0,625.6 160.9,624.1 162.4,623.8" fill="none" stroke="#000" stroke-width="1.1" stroke-linejoin="round"/>
<path d="M100.0,644.8 C102.9,645.1 119.2,646.9 124.5,647.5 C129.7,648.2 139.6,650.3 143.8,650.1 C147.9,649.8 155.9,646.5 159.0,645.3 C162.2,644.1 168.6,640.8 169.9,640.2" fill="none" stroke="#000" stroke-width="1.1" stroke-linejoin="round"/>
<path d="M99.3,639.0 C104.7,639.4 138.2,642.9 143.7,642.8 C149.3,642.7 145.1,639.0 145.3,638.5" fill="none" stroke="#000" stroke-width="1.1" stroke-linejoin="round"/>
<path d="M100.0,652.8 C103.2,652.7 119.9,651.9 127.3,651.9 C134.8,651.9 158.1,652.6 162.3,652.7" fill="none" stroke="#000" stroke-width="1.1" stroke-linejoin="round"/>
<path d="M76.8,558.4 C77.3,559.4 79.7,565.2 81.0,566.6 C82.4,568.0 86.1,569.0 87.9,570.2 C89.6,571.4 94.3,574.7 95.5,576.7 C96.7,578.7 97.2,583.3 97.6,586.5 C98.0,589.7 98.9,598.1 98.8,603.3 C98.7,608.6 97.0,627.0 96.8,630.3" fill="none" stroke="#000" stroke-width="1.1" stroke-linejoin="round"/>
<path d="M70.0,556.3 C70.3,556.4 72.0,556.7 72.2,557.1 C72.3,557.4 70.6,559.1 71.0,559.6 C71.4,560.0 74.5,560.1 75.6,561.1 C76.6,562.1 79.5,566.4 79.8,567.9 C80.2,569.5 79.8,572.8 78.4,573.9 C77.0,575.0 70.4,576.4 68.2,577.1 C66.1,577.8 61.1,579.4 60.2,579.7" fill="none" stroke="#000" stroke-width="1.1" stroke-linejoin="round"/>
<path d="M59.8,580.6 C62.0,580.8 73.7,581.7 78.2,582.2 C82.6,582.6 92.2,584.3 96.8,584.4 C101.3,584.4 110.9,583.0 116.1,582.6 C121.3,582.2 136.0,580.7 140.0,581.2 C144.1,581.6 148.6,585.8 149.8,586.5" fill="none" stroke="#000" stroke-width="1.1" stroke-linejoin="round"/>
<path d="M93.9,539.6 C95.4,540.7 103.5,546.3 106.4,548.8 C109.4,551.4 115.6,558.7 118.5,561.0 C121.3,563.3 128.3,566.0 130.3,567.9 C132.2,569.8 134.2,575.5 134.7,576.5" fill="none" stroke="#000" stroke-width="1.1" stroke-linejoin="round"/>
<path d="M142.8,519.7 C141.1,519.8 132.4,520.2 129.2,520.0 C125.9,519.9 118.9,518.6 115.6,518.3 C112.4,518.0 105.3,517.4 102.0,517.3 C98.8,517.1 91.7,517.3 88.5,517.3 C85.2,517.3 78.1,517.4 74.9,517.4 C71.6,517.5 62.9,517.6 61.3,517.6" fill="none" stroke="#000" stroke-width="1.0" stroke-linejoin="round"/>
<path d="M129.4,516.8 C127.9,517.1 120.0,519.4 117.1,519.8 C114.1,520.2 107.7,520.3 104.7,520.3 C101.8,520.3 95.4,520.2 92.4,519.9 C89.5,519.5 83.0,518.0 80.1,517.7 C77.1,517.5 69.2,517.5 67.8,517.5" fill="none" stroke="#000" stroke-width="1.0" stroke-linejoin="round"/>
<path d="M169.9,535.4 C169.9,537.0 169.6,545.7 169.5,548.9 C169.4,552.2 169.3,559.3 169.3,562.5 C169.4,565.8 169.8,572.8 169.8,576.1 C169.7,579.3 168.9,586.4 168.9,589.7 C168.8,592.9 169.3,601.6 169.4,603.2" fill="none" stroke="#000" stroke-width="1.0" stroke-linejoin="round"/>
<path d="M167.1,522.7 C167.1,524.2 167.2,532.3 167.1,535.4 C166.9,538.4 165.8,545.0 165.6,548.1 C165.4,551.1 165.5,557.7 165.2,560.8 C164.9,563.8 163.5,570.5 163.2,573.5 C162.9,576.6 162.4,583.2 162.5,586.2 C162.6,589.3 163.8,597.4 164.0,598.9" fill="none" stroke="#000" stroke-width="1.0" stroke-linejoin="round"/>
<path d="M166.0,520.0 C165.9,521.6 165.6,529.8 165.3,532.9 C165.0,536.0 163.6,542.7 163.3,545.7 C163.0,548.8 162.8,555.5 162.8,558.6 C162.9,561.7 163.5,568.4 163.7,571.5 C163.9,574.5 164.5,581.2 164.5,584.3 C164.5,587.4 163.6,594.1 163.8,597.2 C164.0,600.3 166.1,607.0 166.2,610.0 C166.2,613.1 164.4,621.4 164.1,622.9" fill="none" stroke="#000" stroke-width="1.0" stroke-linejoin="round"/>
<path d="M170.6,649.1 C169.0,649.2 160.5,650.1 157.4,650.2 C154.2,650.4 147.3,650.1 144.1,650.1 C141.0,650.1 134.1,649.9 130.9,650.0 C127.7,650.1 120.8,650.4 117.7,650.6 C114.5,650.7 107.6,651.1 104.4,651.2 C101.2,651.3 94.3,651.2 91.2,651.2 C88.0,651.2 81.1,651.2 77.9,651.2 C74.8,651.2 66.1,652.5 64.7,651.2 C63.3,649.9 66.1,641.6 66.3,640.3" fill="none" stroke="#000" stroke-width="1.0" stroke-linejoin="round"/>
<path d="M133.4,647.8 C131.9,647.7 124.1,647.3 121.1,647.2 C118.2,647.2 111.8,647.2 108.9,647.3 C105.9,647.4 99.5,648.2 96.6,648.4 C93.7,648.6 87.3,648.8 84.3,649.0 C81.4,649.2 75.0,650.3 72.1,650.3 C69.1,650.2 61.3,648.6 59.8,648.3" fill="none" stroke="#000" stroke-width="1.0" stroke-linejoin="round"/>
<path d="M42.3,555.5 C42.2,557.1 41.7,565.7 41.5,568.9 C41.4,572.1 41.1,579.1 41.1,582.3 C41.1,585.5 41.5,592.5 41.6,595.7 C41.7,599.0 42.0,605.9 42.0,609.2 C42.0,612.4 41.4,619.3 41.5,622.6 C41.7,625.8 42.8,632.8 43.0,636.0 C43.3,639.2 43.5,647.8 43.6,649.4" fill="none" stroke="#000" stroke-width="1.0" stroke-linejoin="round"/>
<path d="M43.1,611.0 C43.1,609.4 42.6,600.8 42.6,597.6 C42.6,594.4 42.8,587.4 42.9,584.2 C43.0,581.0 43.5,574.0 43.7,570.8 C43.8,567.5 43.7,560.6 43.9,557.4 C44.2,554.1 45.9,547.2 45.9,544.0 C45.9,540.7 44.3,533.8 44.1,530.5 C43.8,527.3 41.6,519.0 43.9,517.1 C46.3,515.3 61.0,515.1 63.4,514.9" fill="none" stroke="#000" stroke-width="1.0" stroke-linejoin="round"/>
<rect x="277.20" y="546.90" width="72.10" height="72.10" fill="#cccccc" stroke="none" stroke-width="0"/>
<path d="M275.5,519.3 C277.0,519.2 285.0,518.9 288.0,518.8 C291.0,518.7 297.5,518.7 300.5,518.5 C303.5,518.4 310.0,517.6 313.0,517.4 C316.0,517.3 322.5,517.5 325.5,517.5 C328.5,517.5 335.0,517.8 338.0,517.8 C341.0,517.8 347.5,517.6 350.5,517.5 C353.5,517.5 361.5,517.6 363.0,517.6" fill="none" stroke="#2a70c2" stroke-width="1.0" stroke-linejoin="round"/>
<path d="M267.0,517.4 C268.7,517.3 277.2,517.1 280.4,517.0 C283.7,516.9 290.6,516.6 293.9,516.5 C297.1,516.5 304.0,516.1 307.3,516.2 C310.5,516.3 317.5,517.1 320.7,517.2 C323.9,517.3 330.9,517.1 334.1,517.2 C337.3,517.2 345.8,516.8 347.5,517.6 C349.1,518.4 347.9,523.2 348.0,524.0" fill="none" stroke="#2a70c2" stroke-width="1.0" stroke-linejoin="round"/>
<path d="M272.5,518.6 C274.1,518.4 282.5,517.5 285.7,517.4 C288.9,517.2 295.7,517.5 298.9,517.5 C302.1,517.4 308.9,516.9 312.1,516.9 C315.3,516.9 322.1,516.9 325.3,517.2 C328.5,517.6 335.3,519.7 338.5,520.0 C341.7,520.3 348.6,519.8 351.7,519.8 C354.9,519.9 363.7,519.2 364.9,520.4 C366.2,521.5 362.6,528.5 362.3,529.6" fill="none" stroke="#2a70c2" stroke-width="1.0" stroke-linejoin="round"/>
<path d="M269.7,515.4 C271.3,515.3 279.6,514.3 282.7,514.3 C285.8,514.3 292.6,515.6 295.7,515.7 C298.8,515.9 305.5,515.7 308.7,515.7 C311.8,515.7 318.5,515.6 321.6,515.6 C324.8,515.6 331.5,515.7 334.6,516.0 C337.7,516.2 344.5,517.7 347.6,517.6 C350.7,517.5 358.9,514.6 360.6,515.1 C362.3,515.7 361.5,521.3 361.6,522.2" fill="none" stroke="#2a70c2" stroke-width="1.0" stroke-linejoin="round"/>
<path d="M349.1,517.8 C347.7,518.0 339.9,519.1 336.9,519.3 C334.0,519.4 327.7,518.9 324.7,518.9 C321.8,518.9 315.5,519.3 312.5,519.4 C309.6,519.5 303.3,519.7 300.3,519.7 C297.4,519.8 291.1,519.8 288.1,519.9 C285.2,519.9 278.9,519.9 275.9,519.9 C273.0,519.9 266.7,520.0 263.8,520.0 C260.8,519.9 253.0,519.4 251.6,519.4" fill="none" stroke="#2a70c2" stroke-width="1.0" stroke-linejoin="round"/>
<path d="M268.4,517.1 C270.1,517.1 278.9,517.5 282.2,517.7 C285.5,517.8 292.6,518.1 295.9,518.2 C299.2,518.2 306.3,518.1 309.6,518.2 C312.9,518.2 320.0,518.5 323.3,518.7 C326.6,518.9 333.7,519.9 337.0,519.9 C340.3,520.0 349.0,517.2 350.7,519.4 C352.4,521.5 351.2,535.5 351.2,537.8" fill="none" stroke="#2a70c2" stroke-width="1.0" stroke-linejoin="round"/>
<path d="M375.1,641.2 C375.2,639.8 375.2,631.9 375.2,629.0 C375.3,626.0 375.5,619.6 375.4,616.7 C375.2,613.7 374.1,607.4 374.0,604.4 C373.9,601.5 374.5,595.1 374.5,592.1 C374.5,589.2 374.1,582.8 374.0,579.9 C373.9,576.9 373.9,570.5 373.9,567.6 C373.9,564.6 373.8,558.3 373.9,555.3 C374.0,552.4 374.5,544.5 374.6,543.0" fill="none" stroke="#2a70c2" stroke-width="1.0" stroke-linejoin="round"/>
<path d="M378.8,525.1 C378.8,526.5 378.7,534.3 378.6,537.2 C378.5,540.1 378.2,546.4 378.2,549.3 C378.1,552.2 378.6,558.5 378.5,561.5 C378.4,564.4 377.7,570.7 377.4,573.6 C377.1,576.5 376.2,582.8 376.0,585.7 C375.8,588.6 375.8,594.9 375.9,597.8 C376.0,600.7 376.6,607.0 376.7,610.0 C376.7,612.9 376.4,619.2 376.3,622.1 C376.1,625.0 375.3,632.8 375.2,634.2" fill="none" stroke="#2a70c2" stroke-width="1.0" stroke-linejoin="round"/>
<path d="M374.4,639.8 C374.4,638.2 374.4,629.4 374.4,626.1 C374.4,622.8 374.5,615.7 374.4,612.5 C374.4,609.2 374.0,602.1 374.0,598.8 C374.0,595.5 374.3,588.4 374.4,585.1 C374.5,581.8 374.6,574.7 374.8,571.4 C374.9,568.1 375.5,561.0 375.5,557.7 C375.6,554.5 376.2,546.0 375.1,544.1 C374.0,542.1 367.7,541.9 366.6,541.7" fill="none" stroke="#2a70c2" stroke-width="1.0" stroke-linejoin="round"/>
<path d="M379.1,519.7 C379.1,521.3 379.4,529.7 379.5,532.9 C379.6,536.1 379.6,542.9 379.5,546.1 C379.4,549.2 379.0,556.1 379.0,559.2 C378.9,562.4 379.3,569.2 379.2,572.4 C379.2,575.5 378.6,582.4 378.5,585.5 C378.4,588.7 378.4,595.5 378.5,598.7 C378.5,601.8 378.8,608.7 378.8,611.8 C378.8,615.0 378.7,621.8 378.7,625.0 C378.6,628.2 378.4,636.6 378.3,638.2" fill="none" stroke="#2a70c2" stroke-width="1.0" stroke-linejoin="round"/>
<path d="M374.9,516.1 C374.9,517.7 375.1,525.8 375.2,528.9 C375.3,531.9 375.5,538.6 375.6,541.6 C375.8,544.7 376.6,551.3 376.7,554.4 C376.8,557.4 376.5,564.1 376.5,567.1 C376.4,570.2 376.5,576.8 376.3,579.9 C376.0,582.9 374.7,589.5 374.5,592.6 C374.3,595.7 374.4,602.3 374.5,605.3 C374.5,608.4 374.9,615.0 375.2,618.1 C375.6,621.1 378.9,629.7 377.3,630.8 C375.8,632.0 364.2,628.0 362.4,627.6" fill="none" stroke="#2a70c2" stroke-width="1.0" stroke-linejoin="round"/>
<path d="M380.8,651.5 C379.5,651.5 372.5,651.6 369.6,651.5 C366.7,651.4 359.8,650.4 356.7,650.3 C353.6,650.3 346.8,651.0 343.7,651.1 C340.6,651.2 333.9,651.4 330.8,651.4 C327.7,651.5 321.0,651.6 317.9,651.5 C314.8,651.4 308.1,650.8 305.0,650.7 C301.9,650.7 295.2,651.0 292.1,651.1 C289.0,651.2 282.3,651.5 279.2,651.5 C276.1,651.5 269.4,651.6 266.3,651.5 C263.2,651.4 254.9,650.9 253.4,650.8" fill="none" stroke="#2a70c2" stroke-width="1.0" stroke-linejoin="round"/>
<path d="M273.3,649.2 C274.9,649.1 283.4,648.5 286.6,648.4 C289.8,648.4 296.8,648.6 300.0,648.7 C303.2,648.7 310.2,648.7 313.4,648.9 C316.6,649.1 323.6,650.2 326.8,650.5 C330.0,650.8 336.9,651.5 340.1,651.5 C343.3,651.5 350.3,650.3 353.5,650.2 C356.7,650.2 365.5,652.8 366.9,651.0 C368.3,649.1 365.2,636.6 365.0,634.7" fill="none" stroke="#2a70c2" stroke-width="1.0" stroke-linejoin="round"/>
<path d="M272.3,648.1 C273.9,648.1 282.1,648.0 285.1,648.0 C288.2,648.1 294.8,648.7 297.9,648.7 C301.0,648.8 307.6,648.7 310.7,648.7 C313.7,648.8 320.4,648.9 323.5,649.1 C326.5,649.2 333.2,649.7 336.2,650.0 C339.3,650.2 347.8,651.9 349.0,651.3 C350.2,650.7 346.4,645.9 346.0,645.1" fill="none" stroke="#2a70c2" stroke-width="1.0" stroke-linejoin="round"/>
<path d="M249.1,648.2 C250.6,648.3 258.9,648.6 262.0,648.8 C265.1,649.0 271.8,649.6 274.9,649.6 C278.0,649.6 284.7,649.0 287.7,649.0 C290.8,649.0 297.5,649.4 300.6,649.5 C303.7,649.6 310.4,649.7 313.5,649.8 C316.6,649.9 323.3,650.0 326.4,650.2 C329.5,650.4 336.2,651.4 339.3,651.5 C342.4,651.5 350.6,650.7 352.2,650.6" fill="none" stroke="#2a70c2" stroke-width="1.0" stroke-linejoin="round"/>
<path d="M357.5,649.1 C355.9,649.3 347.3,650.4 344.0,650.6 C340.8,650.7 333.8,650.5 330.5,650.4 C327.3,650.2 320.3,649.4 317.0,649.4 C313.8,649.4 306.8,650.4 303.5,650.4 C300.3,650.4 293.3,649.7 290.0,649.6 C286.8,649.5 279.8,649.7 276.5,649.7 C273.3,649.6 264.4,650.3 263.0,649.1 C261.6,648.0 264.7,641.2 264.9,640.1" fill="none" stroke="#2a70c2" stroke-width="1.0" stroke-linejoin="round"/>
<path d="M259.7,646.3 C261.2,646.2 269.0,645.6 272.0,645.5 C274.9,645.4 281.2,645.7 284.2,645.7 C287.1,645.8 293.5,645.7 296.4,645.7 C299.3,645.7 305.7,645.7 308.6,645.7 C311.5,645.7 317.9,645.6 320.8,645.7 C323.8,645.7 330.1,645.9 333.0,646.0 C336.0,646.0 342.3,646.2 345.3,646.3 C348.2,646.5 355.9,649.3 357.5,647.4 C359.1,645.5 358.4,632.4 358.6,630.3" fill="none" stroke="#2a70c2" stroke-width="1.0" stroke-linejoin="round"/>
<path d="M245.5,528.2 C245.5,529.7 245.7,537.9 245.9,541.0 C246.1,544.1 246.8,550.8 246.9,553.9 C247.1,557.0 247.2,563.7 247.1,566.8 C247.0,569.9 246.0,576.6 245.9,579.7 C245.8,582.7 246.3,589.4 246.2,592.5 C246.1,595.6 245.5,602.3 245.3,605.4 C245.1,608.5 244.8,616.7 244.7,618.3" fill="none" stroke="#2a70c2" stroke-width="1.0" stroke-linejoin="round"/>
<path d="M245.6,624.0 C245.5,622.4 244.8,613.7 244.7,610.4 C244.6,607.2 245.0,600.1 245.1,596.8 C245.2,593.6 245.3,586.5 245.4,583.3 C245.6,580.0 246.1,572.9 246.1,569.7 C246.1,566.4 245.3,559.3 245.4,556.1 C245.4,552.8 246.5,545.8 246.5,542.5 C246.5,539.2 245.5,530.6 245.3,528.9" fill="none" stroke="#2a70c2" stroke-width="1.0" stroke-linejoin="round"/>
<path d="M247.4,525.9 C247.5,527.3 248.2,535.1 248.2,538.0 C248.3,540.9 248.0,547.2 247.9,550.1 C247.8,553.0 247.5,559.3 247.3,562.2 C247.1,565.1 246.2,571.4 246.0,574.3 C245.9,577.2 246.2,583.4 246.3,586.3 C246.5,589.3 246.9,595.5 247.0,598.4 C247.0,601.3 246.7,607.6 246.4,610.5 C246.2,613.4 245.1,619.7 244.8,622.6 C244.6,625.5 244.6,631.8 244.7,634.7 C244.8,637.6 243.5,645.9 245.4,646.8 C247.3,647.7 258.7,642.8 260.5,642.2" fill="none" stroke="#2a70c2" stroke-width="1.0" stroke-linejoin="round"/>
<path d="M248.0,541.7 C248.0,543.2 248.0,551.1 248.2,554.1 C248.5,557.1 249.4,563.6 249.8,566.6 C250.2,569.6 251.5,576.0 251.7,579.0 C251.8,582.0 251.2,588.5 250.9,591.5 C250.6,594.4 249.4,600.9 249.1,603.9 C248.8,606.9 248.7,613.4 248.5,616.3 C248.4,619.3 247.5,625.8 247.6,628.8 C247.7,631.8 248.9,639.7 249.1,641.2" fill="none" stroke="#2a70c2" stroke-width="1.0" stroke-linejoin="round"/>
<path d="M246.3,527.6 C246.3,529.1 246.1,537.0 246.1,539.9 C246.0,542.8 246.1,549.2 246.1,552.1 C246.1,555.1 246.2,561.4 246.2,564.4 C246.2,567.3 245.9,573.7 245.9,576.6 C245.9,579.6 246.1,585.9 246.1,588.9 C246.0,591.8 245.7,598.2 245.6,601.1 C245.4,604.0 244.8,610.4 244.9,613.3 C245.0,616.3 246.0,622.6 246.2,625.6 C246.4,628.5 246.5,636.4 246.5,637.8" fill="none" stroke="#2a70c2" stroke-width="1.0" stroke-linejoin="round"/>
<path d="M247.6,538.2 C247.5,539.6 247.2,547.5 247.2,550.4 C247.2,553.4 247.4,559.8 247.5,562.7 C247.5,565.7 247.3,572.0 247.3,575.0 C247.3,577.9 247.3,584.3 247.4,587.2 C247.5,590.2 248.2,596.6 248.3,599.5 C248.3,602.5 247.7,608.8 247.8,611.8 C247.9,614.7 248.9,621.1 249.0,624.1 C249.0,627.0 248.3,633.4 248.1,636.3 C247.9,639.3 247.3,647.1 247.2,648.6" fill="none" stroke="#2a70c2" stroke-width="1.0" stroke-linejoin="round"/>
<path d="M257.8,537.1 C259.6,538.9 269.4,549.3 272.8,552.6 C276.2,555.8 283.8,562.3 286.2,564.2 C288.6,566.1 291.2,568.7 292.7,568.4 C294.2,568.1 296.3,564.6 298.6,561.7 C300.9,558.9 308.8,548.8 311.9,544.5 C315.1,540.3 323.5,528.5 325.1,526.3" fill="none" stroke="#2a70c2" stroke-width="1.1" stroke-linejoin="round"/>
<path d="M248.5,567.6 C251.4,566.1 265.5,558.6 272.8,555.1 C280.1,551.7 302.5,542.3 309.1,539.1 C315.7,535.8 322.9,530.0 327.9,528.1 C333.0,526.3 348.3,524.1 351.1,523.6" fill="none" stroke="#2a70c2" stroke-width="1.1" stroke-linejoin="round"/>
<path d="M274.5,556.0 C280.7,557.7 315.9,567.4 326.8,570.1 C337.6,572.9 360.4,577.6 365.0,578.6" fill="none" stroke="#2a70c2" stroke-width="1.1" stroke-linejoin="round"/>
<path d="M326.8,526.1 C326.9,527.6 327.6,534.0 327.5,539.2 C327.4,544.5 326.9,564.9 325.8,569.9 C324.8,574.9 320.5,580.1 319.0,580.8 C317.5,581.4 314.5,575.0 313.4,575.6 C312.3,576.2 310.4,583.7 309.8,586.0 C309.1,588.3 308.2,593.6 308.0,594.7" fill="none" stroke="#2a70c2" stroke-width="1.1" stroke-linejoin="round"/>
<path d="M351.1,526.4 C349.4,528.9 339.8,542.5 336.9,547.8 C333.9,553.0 328.4,566.6 326.5,570.1 C324.5,573.7 321.4,576.6 320.7,577.5" fill="none" stroke="#2a70c2" stroke-width="1.1" stroke-linejoin="round"/>
<path d="M313.1,575.3 C315.4,575.6 329.4,576.4 332.2,577.7 C335.1,579.0 337.6,583.1 337.1,586.1 C336.6,589.1 329.4,599.5 328.0,602.5 C326.6,605.4 326.6,607.3 325.6,610.6 C324.6,613.9 321.4,626.3 319.7,630.4 C318.0,634.5 312.2,643.0 311.2,644.7" fill="none" stroke="#2a70c2" stroke-width="1.1" stroke-linejoin="round"/>
<path d="M318.8,579.4 C320.0,582.3 327.4,599.0 328.5,603.9 C329.6,608.7 329.0,616.0 328.2,619.6 C327.5,623.3 324.0,631.0 322.2,634.3 C320.5,637.5 314.7,645.4 313.7,646.9" fill="none" stroke="#2a70c2" stroke-width="1.1" stroke-linejoin="round"/>
<path d="M248.2,607.0 C251.5,609.0 267.8,619.6 275.5,623.9 C283.1,628.3 307.7,640.7 312.0,643.0" fill="none" stroke="#2a70c2" stroke-width="1.1" stroke-linejoin="round"/>
<path d="M255.3,579.7 C257.7,583.0 270.2,601.5 275.2,607.4 C280.1,613.4 292.5,624.9 296.8,629.4 C301.1,633.9 309.3,643.4 311.0,645.3" fill="none" stroke="#2a70c2" stroke-width="1.1" stroke-linejoin="round"/>
<path d="M311.2,644.0 C314.3,642.9 329.9,638.0 337.0,635.2 C344.0,632.5 364.9,624.2 369.8,621.2 C374.7,618.1 377.0,611.2 378.0,609.9" fill="none" stroke="#2a70c2" stroke-width="1.1" stroke-linejoin="round"/>
<path d="M265.5,524.0 C264.8,527.9 260.4,548.1 259.2,556.2 C258.1,564.2 256.0,583.5 255.8,591.2 C255.6,598.9 256.8,615.7 257.6,620.4 C258.4,625.1 261.9,629.2 262.5,630.4" fill="none" stroke="#2a70c2" stroke-width="1.1" stroke-linejoin="round"/>
<path d="M303.7,526.6 C301.4,526.9 288.9,527.1 284.6,528.6 C280.3,530.2 270.8,537.2 267.9,539.8 C265.0,542.4 261.5,548.9 260.6,550.2" fill="none" stroke="#2a70c2" stroke-width="1.1" stroke-linejoin="round"/>
<path d="M359.5,532.4 C360.2,535.3 365.2,550.9 365.4,556.7 C365.6,562.4 361.3,574.2 360.9,580.3 C360.6,586.4 361.2,601.8 362.4,607.8 C363.6,613.8 369.7,627.6 370.7,630.3" fill="none" stroke="#2a70c2" stroke-width="1.1" stroke-linejoin="round"/>
<path d="M367.8,523.8 C367.1,525.7 361.2,534.8 361.6,540.1 C362.0,545.4 369.9,560.9 371.3,567.9 C372.8,574.8 373.6,594.5 373.9,598.1" fill="none" stroke="#2a70c2" stroke-width="1.1" stroke-linejoin="round"/>
<path d="M252.6,640.8 C256.7,640.9 280.0,641.2 287.1,641.6 C294.1,642.0 302.9,643.9 311.1,644.1 C319.4,644.3 347.9,643.4 356.0,643.2 C364.2,643.1 376.2,643.0 379.0,643.0" fill="none" stroke="#2a70c2" stroke-width="1.1" stroke-linejoin="round"/>
<path d="M253.2,520.1 C260.0,519.6 294.8,516.2 309.5,516.0 C324.3,515.8 368.0,518.1 375.9,518.4" fill="none" stroke="#2a70c2" stroke-width="1.1" stroke-linejoin="round"/>
<path d="M251.0,524.6 C257.9,524.4 294.5,523.7 309.2,523.4 C324.0,523.1 366.4,522.0 374.2,521.8" fill="none" stroke="#2a70c2" stroke-width="1.1" stroke-linejoin="round"/>
<path d="M246.5,650.2 C254.0,650.2 293.0,650.6 308.9,650.4 C324.9,650.3 371.0,649.0 379.5,648.8" fill="none" stroke="#2a70c2" stroke-width="1.1" stroke-linejoin="round"/>
<path d="M249.2,520.1 C248.8,527.3 245.9,564.3 245.9,579.6 C245.8,595.0 248.3,639.7 248.6,647.9" fill="none" stroke="#2a70c2" stroke-width="1.1" stroke-linejoin="round"/>
<path d="M377.1,520.0 C377.3,527.0 378.7,562.7 378.7,578.3 C378.7,593.8 377.1,641.1 376.9,649.7" fill="none" stroke="#2a70c2" stroke-width="1.1" stroke-linejoin="round"/>
<path d="M249.9,532.5 C251.1,532.8 258.8,534.0 260.0,535.2 C261.2,536.4 260.5,539.7 260.1,542.3 C259.7,544.9 258.0,554.8 256.8,557.2 C255.5,559.7 249.7,562.0 249.9,562.9 C250.0,563.8 257.7,562.7 258.2,564.6 C258.6,566.5 254.9,576.5 253.8,579.0 C252.8,581.5 249.9,584.8 249.4,585.5" fill="none" stroke="#2a70c2" stroke-width="1.1" stroke-linejoin="round"/>
<path d="M246.6,551.1 C247.4,551.6 251.8,553.3 253.1,555.5 C254.5,557.7 257.7,563.8 257.9,569.4 C258.0,575.0 255.4,597.4 254.2,602.6 C253.1,607.7 249.1,610.9 248.4,612.1" fill="none" stroke="#2a70c2" stroke-width="1.1" stroke-linejoin="round"/>
<path d="M249.4,520.1 C251.1,520.3 260.0,520.1 263.0,521.4 C266.0,522.7 273.1,528.9 274.3,530.9 C275.4,532.9 274.0,537.0 272.7,537.9 C271.3,538.7 265.2,537.8 263.0,538.1 C260.7,538.4 255.0,540.0 253.9,540.2" fill="none" stroke="#2a70c2" stroke-width="1.1" stroke-linejoin="round"/>
<path d="M253.3,528.6 C254.4,530.2 259.9,538.4 262.5,541.9 C265.1,545.3 273.3,555.7 274.8,557.5" fill="none" stroke="#2a70c2" stroke-width="1.1" stroke-linejoin="round"/>
<path d="M263.7,523.9 C266.4,524.2 281.4,526.6 286.1,526.8 C290.9,527.0 300.5,525.6 303.3,525.8 C306.1,526.0 308.5,528.3 309.3,528.6" fill="none" stroke="#2a70c2" stroke-width="1.1" stroke-linejoin="round"/>
<path d="M326.5,523.7 C326.9,525.1 329.8,533.7 329.7,535.3 C329.5,536.8 325.4,537.2 325.4,536.6 C325.4,535.9 328.8,531.0 329.3,530.2" fill="none" stroke="#2a70c2" stroke-width="1.1" stroke-linejoin="round"/>
<path d="M367.5,532.3 C366.6,534.7 361.3,546.3 360.0,551.9 C358.8,557.5 356.8,572.9 357.3,578.9 C357.8,585.0 363.2,597.1 364.1,602.1 C364.9,607.1 363.8,617.3 364.5,620.7 C365.1,624.0 368.9,629.1 369.5,630.2" fill="none" stroke="#2a70c2" stroke-width="1.1" stroke-linejoin="round"/>
<path d="M370.1,545.2 C370.4,549.3 372.6,571.8 372.7,579.2 C372.8,586.5 371.2,603.0 371.0,606.2" fill="none" stroke="#2a70c2" stroke-width="1.1" stroke-linejoin="round"/>
<path d="M248.8,619.1 C250.0,619.7 256.8,622.8 258.6,623.8 C260.4,624.9 263.6,627.1 263.7,627.8 C263.9,628.6 261.0,630.2 259.8,629.9 C258.6,629.6 254.2,625.9 253.5,625.4" fill="none" stroke="#2a70c2" stroke-width="1.1" stroke-linejoin="round"/>
<path d="M370.2,620.9 C370.5,622.1 372.5,628.7 372.5,630.5 C372.5,632.3 371.1,635.9 370.2,636.0 C369.3,636.0 365.4,631.5 364.7,630.9" fill="none" stroke="#2a70c2" stroke-width="1.1" stroke-linejoin="round"/>
<path d="M247.5,630.8 C248.2,631.9 253.2,637.9 253.4,639.7 C253.6,641.4 249.9,644.7 249.5,645.3" fill="none" stroke="#2a70c2" stroke-width="1.1" stroke-linejoin="round"/>
<path d="M365.6,519.3 C366.6,520.6 373.4,528.0 373.9,529.9 C374.4,531.8 369.3,533.7 369.6,535.0 C369.9,536.3 375.6,539.8 376.4,540.4" fill="none" stroke="#2a70c2" stroke-width="1.1" stroke-linejoin="round"/>
<text id="hF1" x="82.62" y="496.00" font-size="12.80" fill="#111" color="#111" textLength="42.45" lengthAdjust="spacingAndGlyphs">Control</text>
<text id="hF2" x="278.12" y="496.00" font-size="12.80" fill="#111" color="#111" textLength="69.51" lengthAdjust="spacingAndGlyphs">iMSN-ChR2</text>
<line x1="475.80" y1="551.50" x2="479.00" y2="551.50" stroke="#2a2a2a" stroke-width="1.0"/>
<text x="476.15" y="556.15" font-size="13.0" text-anchor="end" fill="#111" color="#111">20</text>
<line x1="475.80" y1="597.20" x2="479.00" y2="597.20" stroke="#2a2a2a" stroke-width="1.0"/>
<text x="476.15" y="601.85" font-size="13.0" text-anchor="end" fill="#111" color="#111">10</text>
<line x1="475.80" y1="642.80" x2="479.00" y2="642.80" stroke="#2a2a2a" stroke-width="1.0"/>
<text x="476.15" y="647.45" font-size="13.0" text-anchor="end" fill="#111" color="#111">0</text>
<rect x="488.45" y="584.55" width="15.70" height="58.25" fill="#fff" stroke="#8d8d8d" stroke-width="1.7"/>
<rect x="514.55" y="577.15" width="15.90" height="65.65" fill="#fff" stroke="#2a6fc0" stroke-width="1.7"/>
<rect x="557.00" y="594.20" width="16.80" height="48.60" fill="#a7a7a7" stroke="none" stroke-width="0"/>
<rect x="583.00" y="612.20" width="17.00" height="30.60" fill="#6699cc" stroke="none" stroke-width="0"/>
<line x1="496.20" y1="549.10" x2="522.10" y2="545.50" stroke="#111" stroke-width="1.05"/>
<line x1="496.20" y1="590.50" x2="522.10" y2="540.50" stroke="#111" stroke-width="1.05"/>
<line x1="496.20" y1="557.60" x2="522.10" y2="584.00" stroke="#111" stroke-width="1.05"/>
<line x1="496.20" y1="576.00" x2="522.10" y2="581.30" stroke="#111" stroke-width="1.05"/>
<line x1="496.20" y1="583.30" x2="522.10" y2="574.70" stroke="#111" stroke-width="1.05"/>
<line x1="496.20" y1="597.80" x2="522.10" y2="574.70" stroke="#111" stroke-width="1.05"/>
<line x1="496.20" y1="597.80" x2="522.10" y2="623.40" stroke="#111" stroke-width="1.05"/>
<line x1="496.20" y1="608.30" x2="522.10" y2="610.90" stroke="#111" stroke-width="1.05"/>
<line x1="496.20" y1="609.00" x2="522.10" y2="605.70" stroke="#111" stroke-width="1.05"/>
<line x1="496.20" y1="616.80" x2="522.10" y2="613.60" stroke="#111" stroke-width="1.05"/>
<line x1="496.20" y1="615.00" x2="522.10" y2="603.00" stroke="#111" stroke-width="1.05"/>
<line x1="565.50" y1="541.20" x2="591.20" y2="576.70" stroke="#111" stroke-width="1.05"/>
<line x1="565.50" y1="557.60" x2="591.20" y2="612.90" stroke="#111" stroke-width="1.05"/>
<line x1="565.50" y1="563.60" x2="591.20" y2="585.30" stroke="#111" stroke-width="1.05"/>
<line x1="565.50" y1="570.80" x2="591.20" y2="605.00" stroke="#111" stroke-width="1.05"/>
<line x1="565.50" y1="587.90" x2="591.20" y2="601.70" stroke="#111" stroke-width="1.05"/>
<line x1="565.50" y1="598.40" x2="591.20" y2="606.30" stroke="#111" stroke-width="1.05"/>
<line x1="565.50" y1="605.70" x2="591.20" y2="601.70" stroke="#111" stroke-width="1.05"/>
<line x1="565.50" y1="616.20" x2="591.20" y2="603.00" stroke="#111" stroke-width="1.05"/>
<line x1="565.50" y1="606.30" x2="591.20" y2="626.70" stroke="#111" stroke-width="1.05"/>
<line x1="565.50" y1="618.20" x2="591.20" y2="632.60" stroke="#111" stroke-width="1.05"/>
<line x1="565.50" y1="622.80" x2="591.20" y2="641.80" stroke="#111" stroke-width="1.05"/>
<line x1="565.50" y1="639.20" x2="591.20" y2="641.80" stroke="#111" stroke-width="1.05"/>
<line x1="479.00" y1="528.20" x2="479.00" y2="643.30" stroke="#2a2a2a" stroke-width="1.1"/>
<line x1="478.50" y1="642.80" x2="608.60" y2="642.80" stroke="#2a2a2a" stroke-width="1.1"/>
<line x1="509.80" y1="642.80" x2="509.80" y2="646.30" stroke="#2a2a2a" stroke-width="1.0"/>
<line x1="578.40" y1="642.80" x2="578.40" y2="646.30" stroke="#2a2a2a" stroke-width="1.0"/>
<text id="oG0" x="478.60" y="660.00" font-size="12.80" fill="#111" color="#111" textLength="24.82" lengthAdjust="spacingAndGlyphs">OFF</text>
<text id="oG1" x="511.88" y="660.00" font-size="12.80" fill="#111" color="#111" textLength="19.73" lengthAdjust="spacingAndGlyphs">ON</text>
<text id="oG2" x="550.26" y="660.00" font-size="12.80" fill="#111" color="#111" textLength="24.60" lengthAdjust="spacingAndGlyphs">OFF</text>
<text id="oG3" x="584.14" y="660.00" font-size="12.80" fill="#111" color="#111" textLength="19.05" lengthAdjust="spacingAndGlyphs">ON</text>
<text id="hG1" x="485.32" y="517.00" font-size="12.80" fill="#111" color="#111" textLength="42.87" lengthAdjust="spacingAndGlyphs">Control</text>
<text id="hG2" x="542.60" y="517.00" font-size="12.80" fill="#111" color="#111" textLength="69.02" lengthAdjust="spacingAndGlyphs">iMSN-ChR2</text>
<path d="M577.50,528.30 L577.50,525.20 M577.50,528.30 L574.55,527.34 M577.50,528.30 L575.68,530.81 M577.50,528.30 L579.32,530.81 M577.50,528.30 L580.45,527.34 " stroke="#111" stroke-width="2.0" stroke-linecap="round" fill="none"/>
<text id="yG" transform="translate(448.42,596.59) rotate(-90)" x="0" y="0" font-size="12.80" text-anchor="middle" fill="#111" color="#111" textLength="107.89" lengthAdjust="spacingAndGlyphs">Time in Center (%)</text>
<line x1="59.80" y1="716.90" x2="63.00" y2="716.90" stroke="#2a2a2a" stroke-width="1.0"/>
<text x="59.45" y="721.55" font-size="13.0" text-anchor="end" fill="#111" color="#111">25</text>
<line x1="59.80" y1="740.10" x2="63.00" y2="740.10" stroke="#2a2a2a" stroke-width="1.0"/>
<text x="59.45" y="744.75" font-size="13.0" text-anchor="end" fill="#111" color="#111">20</text>
<line x1="59.80" y1="763.30" x2="63.00" y2="763.30" stroke="#2a2a2a" stroke-width="1.0"/>
<text x="59.45" y="767.95" font-size="13.0" text-anchor="end" fill="#111" color="#111">15</text>
<line x1="59.80" y1="786.40" x2="63.00" y2="786.40" stroke="#2a2a2a" stroke-width="1.0"/>
<text x="59.45" y="791.05" font-size="13.0" text-anchor="end" fill="#111" color="#111">10</text>
<line x1="59.80" y1="809.60" x2="63.00" y2="809.60" stroke="#2a2a2a" stroke-width="1.0"/>
<text x="59.45" y="814.25" font-size="13.0" text-anchor="end" fill="#111" color="#111">5</text>
<line x1="59.80" y1="832.80" x2="63.00" y2="832.80" stroke="#2a2a2a" stroke-width="1.0"/>
<text x="59.45" y="837.45" font-size="13.0" text-anchor="end" fill="#111" color="#111">0</text>
<rect x="72.55" y="766.15" width="16.10" height="66.65" fill="#fff" stroke="#8d8d8d" stroke-width="1.7"/>
<rect x="98.85" y="771.35" width="16.30" height="61.45" fill="#fff" stroke="#2a6fc0" stroke-width="1.7"/>
<rect x="142.30" y="784.90" width="16.70" height="47.90" fill="#a7a7a7" stroke="none" stroke-width="0"/>
<rect x="168.20" y="795.00" width="16.90" height="37.80" fill="#6699cc" stroke="none" stroke-width="0"/>
<line x1="80.50" y1="730.50" x2="106.80" y2="745.70" stroke="#111" stroke-width="1.05"/>
<line x1="80.50" y1="735.80" x2="106.80" y2="763.40" stroke="#111" stroke-width="1.05"/>
<line x1="80.50" y1="740.40" x2="106.80" y2="758.20" stroke="#111" stroke-width="1.05"/>
<line x1="80.50" y1="758.20" x2="106.80" y2="753.90" stroke="#111" stroke-width="1.05"/>
<line x1="80.50" y1="762.80" x2="106.80" y2="767.40" stroke="#111" stroke-width="1.05"/>
<line x1="80.50" y1="765.40" x2="106.80" y2="745.00" stroke="#111" stroke-width="1.05"/>
<line x1="80.50" y1="772.00" x2="106.80" y2="748.30" stroke="#111" stroke-width="1.05"/>
<line x1="80.50" y1="777.20" x2="106.80" y2="785.80" stroke="#111" stroke-width="1.05"/>
<line x1="80.50" y1="786.40" x2="106.80" y2="809.50" stroke="#111" stroke-width="1.05"/>
<line x1="80.50" y1="791.00" x2="106.80" y2="791.00" stroke="#111" stroke-width="1.05"/>
<line x1="80.50" y1="800.30" x2="106.80" y2="800.30" stroke="#111" stroke-width="1.05"/>
<line x1="150.50" y1="749.20" x2="176.80" y2="749.20" stroke="#111" stroke-width="1.05"/>
<line x1="150.50" y1="749.20" x2="176.80" y2="758.40" stroke="#111" stroke-width="1.05"/>
<line x1="150.50" y1="758.40" x2="176.80" y2="781.20" stroke="#111" stroke-width="1.05"/>
<line x1="150.50" y1="780.50" x2="176.80" y2="772.40" stroke="#111" stroke-width="1.05"/>
<line x1="150.50" y1="776.80" x2="176.80" y2="795.00" stroke="#111" stroke-width="1.05"/>
<line x1="150.50" y1="781.20" x2="176.80" y2="791.00" stroke="#111" stroke-width="1.05"/>
<line x1="150.50" y1="785.00" x2="176.80" y2="795.50" stroke="#111" stroke-width="1.05"/>
<line x1="150.50" y1="791.00" x2="176.80" y2="785.80" stroke="#111" stroke-width="1.05"/>
<line x1="150.50" y1="785.80" x2="176.80" y2="813.40" stroke="#111" stroke-width="1.05"/>
<line x1="150.50" y1="804.90" x2="176.80" y2="827.20" stroke="#111" stroke-width="1.05"/>
<line x1="150.50" y1="823.30" x2="176.80" y2="831.80" stroke="#111" stroke-width="1.05"/>
<line x1="150.50" y1="827.90" x2="176.80" y2="831.60" stroke="#111" stroke-width="1.05"/>
<line x1="150.50" y1="829.00" x2="176.80" y2="832.00" stroke="#111" stroke-width="1.05"/>
<line x1="63.00" y1="717.10" x2="63.00" y2="833.30" stroke="#2a2a2a" stroke-width="1.1"/>
<line x1="62.50" y1="832.80" x2="194.50" y2="832.80" stroke="#2a2a2a" stroke-width="1.1"/>
<line x1="93.80" y1="832.80" x2="93.80" y2="836.30" stroke="#2a2a2a" stroke-width="1.0"/>
<line x1="163.80" y1="832.80" x2="163.80" y2="836.30" stroke="#2a2a2a" stroke-width="1.0"/>
<text id="oH0" x="66.16" y="850.00" font-size="12.80" fill="#111" color="#111" textLength="25.47" lengthAdjust="spacingAndGlyphs">OFF</text>
<text id="oH1" x="98.78" y="850.00" font-size="12.80" fill="#111" color="#111" textLength="20.08" lengthAdjust="spacingAndGlyphs">ON</text>
<text id="oH2" x="138.37" y="850.00" font-size="12.80" fill="#111" color="#111" textLength="25.96" lengthAdjust="spacingAndGlyphs">OFF</text>
<text id="oH3" x="171.51" y="850.00" font-size="12.80" fill="#111" color="#111" textLength="20.58" lengthAdjust="spacingAndGlyphs">ON</text>
<text id="hH1" x="74.62" y="708.00" font-size="12.80" fill="#111" color="#111" textLength="42.45" lengthAdjust="spacingAndGlyphs">Control</text>
<text id="hH2" x="131.40" y="708.00" font-size="12.80" fill="#111" color="#111" textLength="69.38" lengthAdjust="spacingAndGlyphs">iMSN-ChR2</text>
<text id="pH" x="144.77" y="736.72" font-size="12.80" fill="#111" color="#111" textLength="40.44" lengthAdjust="spacingAndGlyphs">p=0.07</text>
<text id="yH1" transform="translate(30.35,780.62) rotate(-90)" x="0" y="0" font-size="12.80" text-anchor="middle" fill="#111" color="#111" textLength="93.11" lengthAdjust="spacingAndGlyphs">Movements into</text>
<text id="yH2" transform="translate(43.91,780.45) rotate(-90)" x="0" y="0" font-size="12.80" text-anchor="middle" fill="#111" color="#111" textLength="35.66" lengthAdjust="spacingAndGlyphs">center</text>
<line x1="273.40" y1="714.70" x2="276.60" y2="714.70" stroke="#2a2a2a" stroke-width="1.0"/>
<text x="273.05" y="719.35" font-size="13.0" text-anchor="end" fill="#111" color="#111">80</text>
<line x1="273.40" y1="744.70" x2="276.60" y2="744.70" stroke="#2a2a2a" stroke-width="1.0"/>
<text x="273.05" y="749.35" font-size="13.0" text-anchor="end" fill="#111" color="#111">60</text>
<line x1="273.40" y1="774.10" x2="276.60" y2="774.10" stroke="#2a2a2a" stroke-width="1.0"/>
<text x="273.05" y="778.75" font-size="13.0" text-anchor="end" fill="#111" color="#111">40</text>
<line x1="273.40" y1="803.80" x2="276.60" y2="803.80" stroke="#2a2a2a" stroke-width="1.0"/>
<text x="273.05" y="808.45" font-size="13.0" text-anchor="end" fill="#111" color="#111">20</text>
<line x1="273.40" y1="833.40" x2="276.60" y2="833.40" stroke="#2a2a2a" stroke-width="1.0"/>
<text x="273.05" y="838.05" font-size="13.0" text-anchor="end" fill="#111" color="#111">0</text>
<rect x="286.25" y="761.25" width="16.40" height="72.15" fill="#fff" stroke="#8d8d8d" stroke-width="1.7"/>
<rect x="313.55" y="764.65" width="16.20" height="68.75" fill="#fff" stroke="#2a6fc0" stroke-width="1.7"/>
<rect x="357.40" y="767.00" width="17.50" height="66.40" fill="#a7a7a7" stroke="none" stroke-width="0"/>
<rect x="384.30" y="766.10" width="17.50" height="67.30" fill="#6699cc" stroke="none" stroke-width="0"/>
<line x1="294.60" y1="743.00" x2="321.50" y2="757.30" stroke="#111" stroke-width="1.05"/>
<line x1="294.60" y1="745.30" x2="321.50" y2="763.60" stroke="#111" stroke-width="1.05"/>
<line x1="294.60" y1="749.90" x2="321.50" y2="752.70" stroke="#111" stroke-width="1.05"/>
<line x1="294.60" y1="751.00" x2="321.50" y2="753.50" stroke="#111" stroke-width="1.05"/>
<line x1="294.60" y1="753.90" x2="321.50" y2="776.20" stroke="#111" stroke-width="1.05"/>
<line x1="294.60" y1="756.00" x2="321.50" y2="752.00" stroke="#111" stroke-width="1.05"/>
<line x1="294.60" y1="759.00" x2="321.50" y2="763.60" stroke="#111" stroke-width="1.05"/>
<line x1="294.60" y1="762.50" x2="321.50" y2="769.30" stroke="#111" stroke-width="1.05"/>
<line x1="294.60" y1="775.00" x2="321.50" y2="768.20" stroke="#111" stroke-width="1.05"/>
<line x1="294.60" y1="778.50" x2="321.50" y2="769.30" stroke="#111" stroke-width="1.05"/>
<line x1="294.60" y1="790.50" x2="321.50" y2="769.90" stroke="#111" stroke-width="1.05"/>
<line x1="366.40" y1="745.90" x2="393.10" y2="749.90" stroke="#111" stroke-width="1.05"/>
<line x1="366.40" y1="748.00" x2="393.10" y2="750.50" stroke="#111" stroke-width="1.05"/>
<line x1="366.40" y1="752.20" x2="393.10" y2="760.20" stroke="#111" stroke-width="1.05"/>
<line x1="366.40" y1="755.50" x2="393.10" y2="755.00" stroke="#111" stroke-width="1.05"/>
<line x1="366.40" y1="759.00" x2="393.10" y2="741.30" stroke="#111" stroke-width="1.05"/>
<line x1="366.40" y1="761.00" x2="393.10" y2="764.00" stroke="#111" stroke-width="1.05"/>
<line x1="366.40" y1="762.50" x2="393.10" y2="768.20" stroke="#111" stroke-width="1.05"/>
<line x1="366.40" y1="763.00" x2="393.10" y2="765.00" stroke="#111" stroke-width="1.05"/>
<line x1="366.40" y1="781.30" x2="393.10" y2="746.40" stroke="#111" stroke-width="1.05"/>
<line x1="366.40" y1="792.20" x2="393.10" y2="821.40" stroke="#111" stroke-width="1.05"/>
<line x1="366.40" y1="814.00" x2="393.10" y2="802.50" stroke="#111" stroke-width="1.05"/>
<line x1="276.60" y1="714.70" x2="276.60" y2="833.90" stroke="#2a2a2a" stroke-width="1.1"/>
<line x1="276.10" y1="833.40" x2="411.80" y2="833.40" stroke="#2a2a2a" stroke-width="1.1"/>
<line x1="307.50" y1="833.40" x2="307.50" y2="836.90" stroke="#2a2a2a" stroke-width="1.0"/>
<line x1="379.50" y1="833.40" x2="379.50" y2="836.90" stroke="#2a2a2a" stroke-width="1.0"/>
<text id="oI0" x="280.63" y="854.00" font-size="12.80" fill="#111" color="#111" textLength="24.67" lengthAdjust="spacingAndGlyphs">OFF</text>
<text id="oI1" x="313.34" y="854.00" font-size="12.80" fill="#111" color="#111" textLength="20.26" lengthAdjust="spacingAndGlyphs">ON</text>
<text id="oI2" x="353.45" y="854.00" font-size="12.80" fill="#111" color="#111" textLength="24.60" lengthAdjust="spacingAndGlyphs">OFF</text>
<text id="oI3" x="385.56" y="854.00" font-size="12.80" fill="#111" color="#111" textLength="20.51" lengthAdjust="spacingAndGlyphs">ON</text>
<text id="hI1" x="280.62" y="708.00" font-size="12.80" fill="#111" color="#111" textLength="42.45" lengthAdjust="spacingAndGlyphs">Control</text>
<text id="hI2" x="337.40" y="708.00" font-size="12.80" fill="#111" color="#111" textLength="69.38" lengthAdjust="spacingAndGlyphs">iMSN-ChR2</text>
<text id="yI1" transform="translate(238.78,784.26) rotate(-90)" x="0" y="0" font-size="12.80" text-anchor="middle" fill="#111" color="#111" textLength="93.06" lengthAdjust="spacingAndGlyphs">Movements into</text>
<text id="yI2" transform="translate(252.76,784.11) rotate(-90)" x="0" y="0" font-size="12.80" text-anchor="middle" fill="#111" color="#111" textLength="52.14" lengthAdjust="spacingAndGlyphs">surround</text>
<line x1="476.20" y1="705.30" x2="476.20" y2="825.20" stroke="#2a2a2a" stroke-width="1.1"/>
<line x1="475.70" y1="824.70" x2="611.90" y2="824.70" stroke="#2a2a2a" stroke-width="1.1"/>
<line x1="472.80" y1="824.70" x2="476.20" y2="824.70" stroke="#2a2a2a" stroke-width="1.0"/>
<text x="472.75" y="829.35" font-size="13.0" text-anchor="end" fill="#111" color="#111">0</text>
<line x1="472.80" y1="795.00" x2="476.20" y2="795.00" stroke="#2a2a2a" stroke-width="1.0"/>
<text x="472.75" y="799.65" font-size="13.0" text-anchor="end" fill="#111" color="#111">5</text>
<line x1="472.80" y1="765.30" x2="476.20" y2="765.30" stroke="#2a2a2a" stroke-width="1.0"/>
<text x="472.75" y="769.95" font-size="13.0" text-anchor="end" fill="#111" color="#111">10</text>
<line x1="472.80" y1="735.60" x2="476.20" y2="735.60" stroke="#2a2a2a" stroke-width="1.0"/>
<text x="472.75" y="740.25" font-size="13.0" text-anchor="end" fill="#111" color="#111">15</text>
<line x1="472.80" y1="705.90" x2="476.20" y2="705.90" stroke="#2a2a2a" stroke-width="1.0"/>
<text x="472.75" y="710.55" font-size="13.0" text-anchor="end" fill="#111" color="#111">20</text>
<line x1="476.20" y1="824.70" x2="476.20" y2="828.50" stroke="#2a2a2a" stroke-width="1.0"/>
<text x="476.20" y="841.80" font-size="13.0" text-anchor="middle" fill="#111" color="#111">0</text>
<line x1="510.05" y1="824.70" x2="510.05" y2="828.50" stroke="#2a2a2a" stroke-width="1.0"/>
<text x="510.05" y="841.80" font-size="13.0" text-anchor="middle" fill="#111" color="#111">5</text>
<line x1="543.90" y1="824.70" x2="543.90" y2="828.50" stroke="#2a2a2a" stroke-width="1.0"/>
<text x="543.90" y="841.80" font-size="13.0" text-anchor="middle" fill="#111" color="#111">10</text>
<line x1="577.75" y1="824.70" x2="577.75" y2="828.50" stroke="#2a2a2a" stroke-width="1.0"/>
<text x="577.75" y="841.80" font-size="13.0" text-anchor="middle" fill="#111" color="#111">15</text>
<line x1="611.60" y1="824.70" x2="611.60" y2="828.50" stroke="#2a2a2a" stroke-width="1.0"/>
<text x="611.60" y="841.80" font-size="13.0" text-anchor="middle" fill="#111" color="#111">20</text>
<line x1="476.30" y1="821.30" x2="598.00" y2="741.30" stroke="#c9303a" stroke-width="1.1"/>
<circle cx="476.20" cy="824.70" r="3.25" fill="#050505"/>
<circle cx="482.29" cy="812.82" r="3.25" fill="#050505"/>
<circle cx="502.60" cy="804.50" r="3.25" fill="#050505"/>
<circle cx="530.36" cy="787.28" r="3.25" fill="#050505"/>
<circle cx="530.36" cy="781.93" r="3.25" fill="#050505"/>
<circle cx="536.45" cy="777.77" r="3.25" fill="#050505"/>
<circle cx="543.90" cy="770.65" r="3.25" fill="#050505"/>
<circle cx="550.67" cy="773.62" r="3.25" fill="#050505"/>
<circle cx="564.21" cy="774.80" r="3.25" fill="#050505"/>
<circle cx="584.52" cy="738.57" r="3.25" fill="#050505"/>
<circle cx="598.06" cy="749.86" r="3.25" fill="#050505"/>
<text id="Jr2" x="563.94" y="804.96" font-size="12.80" fill="#c9303a" color="#c9303a" textLength="48.78" lengthAdjust="spacingAndGlyphs">R<tspan font-size="10" dy="-2.8">2</tspan><tspan dy="2.8">=0.95</tspan></text>
<text id="Jp" x="561.22" y="817.76" font-size="12.80" fill="#c9303a" color="#c9303a" textLength="53.25" lengthAdjust="spacingAndGlyphs">p&lt;0.0001</text>
<text id="xJ" x="490.14" y="855.43" font-size="12.80" fill="#111" color="#111" textLength="132.27" lengthAdjust="spacingAndGlyphs">Movements into Center</text>
<text id="yJ" transform="translate(450.84,765.04) rotate(-90)" x="0" y="0" font-size="12.80" text-anchor="middle" fill="#111" color="#111" textLength="108.52" lengthAdjust="spacingAndGlyphs">Time in Center (%)</text>
</svg>
</body></html>
